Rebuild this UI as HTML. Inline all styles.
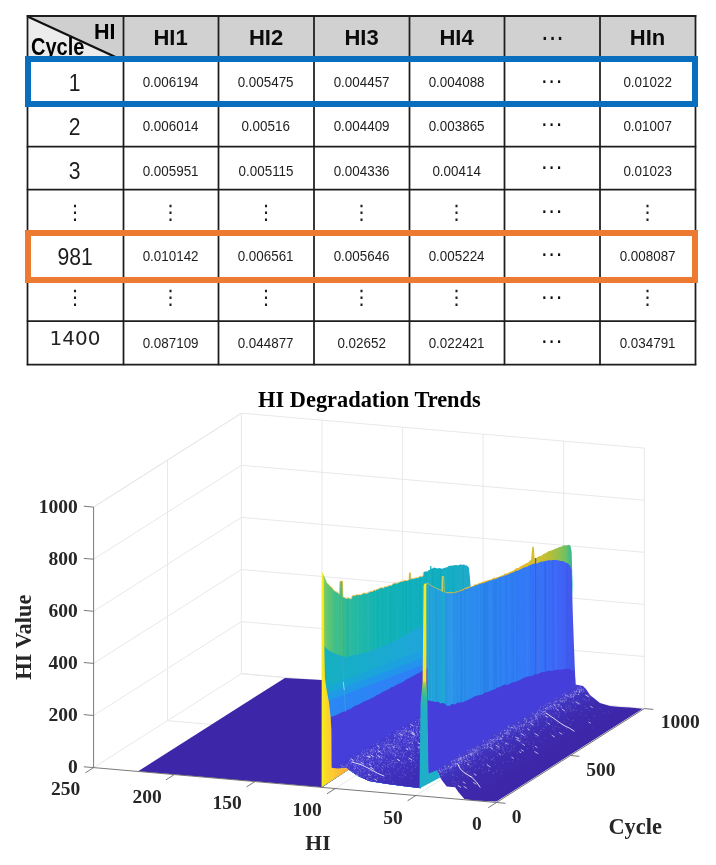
<!DOCTYPE html>
<html lang="en"><head><meta charset="utf-8"><title>HI Degradation Trends</title>
<style>
html,body{margin:0;padding:0;background:#fff;}
body{width:716px;height:865px;position:relative;overflow:hidden;font-family:"Liberation Sans",Arial,sans-serif;}
table.hi{position:absolute;left:27px;top:16px;border-collapse:collapse;table-layout:fixed;width:668px;}
table.hi th,table.hi td{border:0;padding:0;text-align:center;vertical-align:middle;color:#1a1a1a;overflow:hidden;line-height:1;}
table.hi th{background:#d1d1d1;font-size:22px;font-weight:bold;color:#0c0c0c;}
table.hi td{font-size:14.2px;background:#fff;color:#1e1e1e;}
table.hi td span{transform:scaleX(0.945);}
table.hi span{position:relative;display:inline-block;}
table.hi th span{top:1px;}
table.hi td.first{font-size:24px;color:#1c1c1c;}
table.hi td.first span{transform:scaleX(0.88);}
table.hi td.wide{font-family:"DejaVu Sans","Liberation Sans",sans-serif;font-size:20px;color:#222;}
table.hi td.wide span{transform:none;top:-6px;}
table.hi td.vd,table.hi td.first.vd{font-size:20px;font-family:"DejaVu Sans",sans-serif;}
table.hi td.vd span{transform:none;}
table.hi .dots{font-size:24px;font-weight:normal;font-family:"DejaVu Sans","Liberation Sans",sans-serif;color:#111;}
table.hi td.dots{font-size:21px;letter-spacing:0.6px;}
th.corner{position:relative;}
th.corner .diag{position:absolute;left:0;top:0;}
table.hi th.corner span{position:absolute;font-weight:bold;color:#000;line-height:1;top:auto;}
table.hi th.corner .hc-hi{right:7.5px;top:6px;font-size:21.5px;}
table.hi th.corner .hc-cy{left:4px;top:19.5px;font-size:23px;transform:scaleX(0.87);transform-origin:0 0;}
table.hi tr.r1 td span{top:2px;}
table.hi tr.r2 td span{top:1.5px;}
table.hi tr.r2 td.first span{top:2.5px;}
table.hi tr.r3 td span{top:3px;}
table.hi tr.r5 td span{top:0.5px;}
table.hi tr.r6 td span{top:-3px;}
table.hi tr.r7 td span{top:1px;}
table.hi tr.r7 td.wide span{top:-5px;}
table.hi tr td.dots span{top:1px;transform:none;}
table.hi tr.r1 td.dots span{top:2px;}
table.hi tr.r3 td.dots span{top:0.5px;}
table.hi tr.r5 td.dots span{top:-1px;}
table.hi tr.r6 td.dots span{top:-1.3px;}
table.hi tr.r7 td.dots span{top:0.4px;}
table.hi tr.r0 th.dots span{top:1.5px;left:0.5px;}
svg.grid{position:absolute;left:0;top:0;}
.box{position:absolute;box-sizing:border-box;border-style:solid;border-width:6px;}
.blue{left:25px;top:56px;width:673px;height:51px;border-color:#0A6EBF;}
.orange{left:25px;top:230px;width:673px;height:53px;border-color:#EC7A31;}
</style></head>
<body>
<table class="hi">
<colgroup><col style="width:96px"><col style="width:95px"><col style="width:96px"><col style="width:95px"><col style="width:95px"><col style="width:96px"><col style="width:95px"></colgroup>
<tr class="r0" style="height:42px"><th class="corner"><svg class="diag" width="97" height="43" viewBox="0 0 97 43"><polygon points="0,0 97,0 97,43 89,43" fill="#cfcfcf"/><polygon points="0,0 89,43 0,43" fill="#ececec"/><line x1="0.5" y1="0.5" x2="88.5" y2="41" stroke="#111" stroke-width="2.2"/></svg><span class="hc-hi">HI</span><span class="hc-cy">Cycle</span></th><th><span>HI1</span></th><th><span>HI2</span></th><th><span>HI3</span></th><th><span>HI4</span></th><th class="dots"><span>···</span></th><th><span>HIn</span></th></tr>
<tr class="r1" style="height:45px"><td class="first"><span>1</span></td><td><span>0.006194</span></td><td><span>0.005475</span></td><td><span>0.004457</span></td><td><span>0.004088</span></td><td class="dots"><span>···</span></td><td><span>0.01022</span></td></tr>
<tr class="r2" style="height:43px"><td class="first"><span>2</span></td><td><span>0.006014</span></td><td><span>0.00516</span></td><td><span>0.004409</span></td><td><span>0.003865</span></td><td class="dots"><span>···</span></td><td><span>0.01007</span></td></tr>
<tr class="r3" style="height:44px"><td class="first"><span>3</span></td><td><span>0.005951</span></td><td><span>0.005115</span></td><td><span>0.004336</span></td><td><span>0.00414</span></td><td class="dots"><span>···</span></td><td><span>0.01023</span></td></tr>
<tr class="r4" style="height:43px"><td class="first vd"><span>⋮</span></td><td class="vd"><span>⋮</span></td><td class="vd"><span>⋮</span></td><td class="vd"><span>⋮</span></td><td class="vd"><span>⋮</span></td><td class="dots"><span>···</span></td><td class="vd"><span>⋮</span></td></tr>
<tr class="r5" style="height:46px"><td class="first"><span>981</span></td><td><span>0.010142</span></td><td><span>0.006561</span></td><td><span>0.005646</span></td><td><span>0.005224</span></td><td class="dots"><span>···</span></td><td><span>0.008087</span></td></tr>
<tr class="r6" style="height:42px"><td class="first vd"><span>⋮</span></td><td class="vd"><span>⋮</span></td><td class="vd"><span>⋮</span></td><td class="vd"><span>⋮</span></td><td class="vd"><span>⋮</span></td><td class="dots"><span>···</span></td><td class="vd"><span>⋮</span></td></tr>
<tr class="r7" style="height:43px"><td class="first wide"><span>1400</span></td><td><span>0.087109</span></td><td><span>0.044877</span></td><td><span>0.02652</span></td><td><span>0.022421</span></td><td class="dots"><span>···</span></td><td><span>0.034791</span></td></tr>
</table>
<svg class="grid" width="716" height="380" viewBox="0 0 716 380">
<g stroke="#1d1d1d" stroke-width="1.75" fill="none">
<line x1="27.5" y1="15.1" x2="27.5" y2="365.25"/>
<line x1="123.5" y1="15.1" x2="123.5" y2="365.25"/>
<line x1="218.5" y1="15.1" x2="218.5" y2="365.25"/>
<line x1="314" y1="15.1" x2="314" y2="365.25"/>
<line x1="409.5" y1="15.1" x2="409.5" y2="365.25"/>
<line x1="504.5" y1="15.1" x2="504.5" y2="365.25"/>
<line x1="600" y1="15.1" x2="600" y2="365.25"/>
<line x1="695.5" y1="15.1" x2="695.5" y2="365.25"/>
<line x1="26.75" y1="16" x2="696.25" y2="16" stroke-width="2.2"/>
<line x1="26.75" y1="58" x2="696.25" y2="58" stroke-width="1.75"/>
<line x1="26.75" y1="103" x2="696.25" y2="103" stroke-width="1.75"/>
<line x1="26.75" y1="146.5" x2="696.25" y2="146.5" stroke-width="1.75"/>
<line x1="26.75" y1="189.5" x2="696.25" y2="189.5" stroke-width="1.75"/>
<line x1="26.75" y1="233" x2="696.25" y2="233" stroke-width="1.75"/>
<line x1="26.75" y1="279" x2="696.25" y2="279" stroke-width="1.75"/>
<line x1="26.75" y1="321" x2="696.25" y2="321" stroke-width="1.75"/>
<line x1="26.75" y1="364.5" x2="696.25" y2="364.5" stroke-width="1.75"/>
</g></svg>
<div class="box blue"></div>
<div class="box orange"></div>
<svg width="716" height="865" viewBox="0 0 716 865" style="position:absolute;left:0;top:0">
<defs><linearGradient id="gC1" gradientUnits="userSpaceOnUse" x1="322" y1="0" x2="471" y2="0"><stop offset="0.000" stop-color="#A5D24A"/><stop offset="0.020" stop-color="#76C965"/><stop offset="0.054" stop-color="#57C478"/><stop offset="0.087" stop-color="#41BF88"/><stop offset="0.154" stop-color="#2FBB9A"/><stop offset="0.255" stop-color="#20B8A8"/><stop offset="0.389" stop-color="#12B4B6"/><stop offset="0.658" stop-color="#0EB0BE"/><stop offset="0.859" stop-color="#14AEC4"/><stop offset="1.000" stop-color="#22AACB"/></linearGradient><linearGradient id="gA" gradientUnits="userSpaceOnUse" x1="324" y1="0" x2="428" y2="0"><stop offset="0.000" stop-color="#15B0C0"/><stop offset="0.350" stop-color="#18ACCB"/><stop offset="1.000" stop-color="#1FA5DB"/></linearGradient><linearGradient id="gB" gradientUnits="userSpaceOnUse" x1="324" y1="0" x2="428" y2="0"><stop offset="0.000" stop-color="#17A9D2"/><stop offset="1.000" stop-color="#1E9FE3"/></linearGradient><linearGradient id="gC" gradientUnits="userSpaceOnUse" x1="324" y1="0" x2="428" y2="0"><stop offset="0.000" stop-color="#1E9CE6"/><stop offset="1.000" stop-color="#2491EE"/></linearGradient><linearGradient id="gD" gradientUnits="userSpaceOnUse" x1="324" y1="0" x2="428" y2="0"><stop offset="0.000" stop-color="#2A88F4"/><stop offset="1.000" stop-color="#2F7FF7"/></linearGradient><linearGradient id="gS1" gradientUnits="userSpaceOnUse" x1="370" y1="745" x2="394" y2="788"><stop offset="0.000" stop-color="#443BD4"/><stop offset="0.500" stop-color="#4135C6"/><stop offset="1.000" stop-color="#3D2DB6"/></linearGradient><linearGradient id="gY1" gradientUnits="userSpaceOnUse" x1="321.5" y1="0" x2="349" y2="0"><stop offset="0.000" stop-color="#F8F11C"/><stop offset="0.091" stop-color="#F7E321"/><stop offset="0.236" stop-color="#FBD22B"/><stop offset="0.455" stop-color="#FDC731"/><stop offset="1.000" stop-color="#F5A93D"/></linearGradient><linearGradient id="gSl" gradientUnits="userSpaceOnUse" x1="447" y1="0" x2="573" y2="0"><stop offset="0.000" stop-color="#EDB72F"/><stop offset="0.579" stop-color="#E3BB2C"/><stop offset="0.706" stop-color="#D6BE2B"/><stop offset="0.802" stop-color="#BBBF33"/><stop offset="0.881" stop-color="#98C04A"/><stop offset="0.944" stop-color="#6DC067"/><stop offset="0.976" stop-color="#45BB86"/><stop offset="1.000" stop-color="#1FB2A2"/></linearGradient><linearGradient id="gC2" gradientUnits="userSpaceOnUse" x1="426" y1="0" x2="576" y2="0"><stop offset="0.000" stop-color="#1FA7D7"/><stop offset="0.120" stop-color="#229EE0"/><stop offset="0.133" stop-color="#2896E8"/><stop offset="0.293" stop-color="#2B8CEE"/><stop offset="0.493" stop-color="#2E83F4"/><stop offset="0.693" stop-color="#3378F8"/><stop offset="0.827" stop-color="#3A6CFA"/><stop offset="0.927" stop-color="#4060F3"/><stop offset="1.000" stop-color="#4550E6"/></linearGradient><linearGradient id="gS2" gradientUnits="userSpaceOnUse" x1="470" y1="742" x2="496" y2="786"><stop offset="0.000" stop-color="#4B46D7"/><stop offset="0.160" stop-color="#463DCE"/><stop offset="0.300" stop-color="#4033BE"/><stop offset="0.600" stop-color="#3D2AAF"/><stop offset="1.000" stop-color="#3E26A8"/></linearGradient><linearGradient id="gY2" gradientUnits="userSpaceOnUse" x1="0" y1="560" x2="0" y2="790"><stop offset="0.000" stop-color="#F6EE1F"/><stop offset="0.525" stop-color="#F8E51F"/><stop offset="0.535" stop-color="#B8D23C"/><stop offset="0.560" stop-color="#5FC173"/><stop offset="0.600" stop-color="#2DB7A6"/><stop offset="0.660" stop-color="#22AEC6"/><stop offset="1.000" stop-color="#1DB0C8"/></linearGradient></defs>
<g fill="none" stroke-linecap="butt">
<line x1="93.6" y1="767.6" x2="241.4" y2="673.7" stroke="#e5e5e5" stroke-width="0.9" />
<line x1="241.4" y1="673.7" x2="644.3" y2="708.6" stroke="#e5e5e5" stroke-width="0.9" />
<line x1="93.6" y1="715.5" x2="241.4" y2="621.6" stroke="#e5e5e5" stroke-width="0.9" />
<line x1="241.4" y1="621.6" x2="644.3" y2="656.5" stroke="#e5e5e5" stroke-width="0.9" />
<line x1="93.6" y1="663.4" x2="241.4" y2="569.5" stroke="#e5e5e5" stroke-width="0.9" />
<line x1="241.4" y1="569.5" x2="644.3" y2="604.4" stroke="#e5e5e5" stroke-width="0.9" />
<line x1="93.6" y1="611.3" x2="241.4" y2="517.4" stroke="#e5e5e5" stroke-width="0.9" />
<line x1="241.4" y1="517.4" x2="644.3" y2="552.3" stroke="#e5e5e5" stroke-width="0.9" />
<line x1="93.6" y1="559.2" x2="241.4" y2="465.3" stroke="#e5e5e5" stroke-width="0.9" />
<line x1="241.4" y1="465.3" x2="644.3" y2="500.2" stroke="#e5e5e5" stroke-width="0.9" />
<line x1="93.6" y1="507.1" x2="241.4" y2="413.2" stroke="#e5e5e5" stroke-width="0.9" />
<line x1="241.4" y1="413.2" x2="644.3" y2="448.1" stroke="#e5e5e5" stroke-width="0.9" />
<line x1="167.5" y1="720.7" x2="167.5" y2="460.2" stroke="#e5e5e5" stroke-width="0.9" />
<line x1="167.5" y1="720.7" x2="570.4" y2="755.5" stroke="#e5e5e5" stroke-width="0.9" />
<line x1="241.4" y1="673.7" x2="241.4" y2="413.2" stroke="#e5e5e5" stroke-width="0.9" />
<line x1="241.4" y1="673.7" x2="644.3" y2="708.6" stroke="#e5e5e5" stroke-width="0.9" />
<line x1="322.0" y1="680.7" x2="322.0" y2="420.2" stroke="#e5e5e5" stroke-width="0.9" />
<line x1="174.2" y1="774.6" x2="322.0" y2="680.7" stroke="#e5e5e5" stroke-width="0.9" />
<line x1="402.6" y1="687.7" x2="402.6" y2="427.2" stroke="#e5e5e5" stroke-width="0.9" />
<line x1="254.8" y1="781.6" x2="402.6" y2="687.7" stroke="#e5e5e5" stroke-width="0.9" />
<line x1="483.1" y1="694.6" x2="483.1" y2="434.1" stroke="#e5e5e5" stroke-width="0.9" />
<line x1="335.3" y1="788.5" x2="483.1" y2="694.6" stroke="#e5e5e5" stroke-width="0.9" />
<line x1="563.7" y1="701.6" x2="563.7" y2="441.1" stroke="#e5e5e5" stroke-width="0.9" />
<line x1="415.9" y1="795.5" x2="563.7" y2="701.6" stroke="#e5e5e5" stroke-width="0.9" />
<line x1="644.3" y1="708.6" x2="644.3" y2="448.1" stroke="#e5e5e5" stroke-width="0.9" />
<line x1="496.5" y1="802.5" x2="644.3" y2="708.6" stroke="#e5e5e5" stroke-width="0.9" />
<line x1="93.6" y1="507.1" x2="241.4" y2="413.2" stroke="#e5e5e5" stroke-width="0.9" />
</g>
<polygon points="138.2,771.2 284.9,677.9 322.0,680.1 322.0,787.2" fill="#3E26A8" />
<clipPath id="cpC1"><polygon points="322.0,573.0 323.5,575.0 325.0,578.0 327.0,583.0 328.5,584.5 330.0,586.5 331.5,587.5 333.0,589.5 334.5,591.0 336.0,592.0 337.8,592.7 339.6,594.5 340.0,581.5 342.5,581.5 342.9,597.0 344.4,597.8 346.0,598.5 347.4,598.4 348.8,598.1 350.1,598.9 351.5,599.0 352.0,596.5 353.3,595.6 354.7,595.9 356.0,595.1 357.3,594.9 358.7,595.1 360.0,595.0 361.4,595.0 362.9,593.6 364.3,593.3 365.7,593.5 367.1,593.5 368.6,592.5 370.0,592.0 371.3,591.4 372.7,591.8 374.0,590.1 375.3,590.8 376.7,589.6 378.0,589.5 379.3,588.6 380.7,588.1 382.0,588.0 383.3,588.3 384.7,587.0 386.0,587.1 387.3,586.8 388.7,586.0 390.0,585.8 391.4,585.4 392.9,584.2 394.3,583.6 395.7,583.3 397.1,583.5 398.6,582.6 400.0,582.2 401.3,581.6 402.6,581.6 403.9,581.1 405.3,580.5 406.6,580.9 407.9,580.4 409.2,579.8 409.4,573.2 410.5,573.2 410.7,579.5 412.0,578.8 413.4,578.9 414.7,578.4 416.0,578.0 417.4,578.1 418.9,577.4 420.3,576.4 421.8,576.9 423.2,575.8 423.5,572.4 424.8,571.4 426.1,571.4 427.4,571.4 428.7,570.1 430.0,570.1 430.2,566.0 431.3,566.0 431.6,569.0 434.0,567.6 435.9,568.0 437.7,568.4 439.6,568.0 441.5,568.8 442.9,568.5 444.3,568.1 445.8,567.4 447.2,567.3 448.6,566.0 450.0,565.7 451.4,565.8 452.9,565.5 454.3,565.3 455.7,564.9 457.1,565.2 458.6,565.2 460.0,564.4 461.3,564.5 462.6,565.0 464.0,564.3 465.3,565.4 466.6,565.3 468.8,567.6 469.7,575.0 470.6,586.0 471.0,700.0 421.0,730.0 420.5,788.2 419.4,788.0 402.6,785.9 385.9,783.8 369.1,781.0 358.0,776.1 351.0,771.2 348.6,769.5 322.0,787.2"/></clipPath>
<g clip-path="url(#cpC1)">
<rect x="320" y="560" width="152" height="232" fill="url(#gC1)"/>
<polygon points="340.0,581.5 342.5,581.5 342.9,656.5 340.0,655.5" fill="#45C083" />
<line x1="419.2" y1="560" x2="419.6" y2="720" stroke="#075a70" stroke-opacity="0.04" stroke-width="1.0"/><line x1="422.3" y1="560" x2="422.8" y2="720" stroke="#fff" stroke-opacity="0.04" stroke-width="1.2"/><line x1="397.1" y1="560" x2="397.3" y2="720" stroke="#fff" stroke-opacity="0.04" stroke-width="0.9"/><line x1="382.3" y1="560" x2="383.0" y2="720" stroke="#000" stroke-opacity="0.02" stroke-width="1.2"/><line x1="453.2" y1="560" x2="453.6" y2="720" stroke="#000" stroke-opacity="0.04" stroke-width="1.1"/><line x1="377.7" y1="560" x2="377.9" y2="720" stroke="#000" stroke-opacity="0.04" stroke-width="0.9"/><line x1="359.4" y1="560" x2="360.6" y2="720" stroke="#fff" stroke-opacity="0.02" stroke-width="0.9"/><line x1="366.6" y1="560" x2="367.2" y2="720" stroke="#fff" stroke-opacity="0.03" stroke-width="1.2"/><line x1="463.2" y1="560" x2="464.7" y2="720" stroke="#075a70" stroke-opacity="0.04" stroke-width="1.3"/><line x1="432.5" y1="560" x2="433.7" y2="720" stroke="#000" stroke-opacity="0.04" stroke-width="1.5"/><line x1="440.9" y1="560" x2="441.5" y2="720" stroke="#000" stroke-opacity="0.03" stroke-width="1.1"/><line x1="383.7" y1="560" x2="384.0" y2="720" stroke="#fff" stroke-opacity="0.02" stroke-width="0.8"/><line x1="375.0" y1="560" x2="375.8" y2="720" stroke="#fff" stroke-opacity="0.02" stroke-width="1.2"/><line x1="462.6" y1="560" x2="464.0" y2="720" stroke="#075a70" stroke-opacity="0.02" stroke-width="1.3"/><line x1="347.4" y1="560" x2="348.3" y2="720" stroke="#000" stroke-opacity="0.04" stroke-width="1.1"/><line x1="342.6" y1="560" x2="343.3" y2="720" stroke="#000" stroke-opacity="0.04" stroke-width="1.1"/><line x1="338.4" y1="560" x2="339.5" y2="720" stroke="#fff" stroke-opacity="0.04" stroke-width="1.1"/><line x1="425.7" y1="560" x2="427.1" y2="720" stroke="#075a70" stroke-opacity="0.02" stroke-width="1.2"/><line x1="347.1" y1="560" x2="348.2" y2="720" stroke="#075a70" stroke-opacity="0.04" stroke-width="1.0"/><line x1="418.6" y1="560" x2="419.0" y2="720" stroke="#fff" stroke-opacity="0.04" stroke-width="1.0"/><line x1="350.1" y1="560" x2="351.2" y2="720" stroke="#fff" stroke-opacity="0.03" stroke-width="1.0"/><line x1="358.1" y1="560" x2="359.3" y2="720" stroke="#fff" stroke-opacity="0.04" stroke-width="1.4"/><line x1="358.7" y1="560" x2="359.7" y2="720" stroke="#075a70" stroke-opacity="0.03" stroke-width="1.6"/><line x1="439.8" y1="560" x2="440.8" y2="720" stroke="#000" stroke-opacity="0.02" stroke-width="1.6"/><line x1="390.4" y1="560" x2="391.8" y2="720" stroke="#075a70" stroke-opacity="0.04" stroke-width="1.0"/><line x1="357.7" y1="560" x2="358.3" y2="720" stroke="#fff" stroke-opacity="0.03" stroke-width="1.1"/><line x1="467.9" y1="560" x2="468.6" y2="720" stroke="#075a70" stroke-opacity="0.04" stroke-width="1.3"/><line x1="441.1" y1="560" x2="441.3" y2="720" stroke="#fff" stroke-opacity="0.04" stroke-width="1.0"/><line x1="428.5" y1="560" x2="428.7" y2="720" stroke="#fff" stroke-opacity="0.03" stroke-width="1.4"/><line x1="373.9" y1="560" x2="374.5" y2="720" stroke="#075a70" stroke-opacity="0.03" stroke-width="1.6"/><line x1="430.4" y1="560" x2="430.4" y2="720" stroke="#fff" stroke-opacity="0.04" stroke-width="1.2"/><line x1="393.0" y1="560" x2="394.3" y2="720" stroke="#075a70" stroke-opacity="0.02" stroke-width="1.6"/><line x1="420.6" y1="560" x2="421.5" y2="720" stroke="#000" stroke-opacity="0.02" stroke-width="0.7"/><line x1="441.1" y1="560" x2="441.9" y2="720" stroke="#075a70" stroke-opacity="0.03" stroke-width="1.5"/><line x1="388.5" y1="560" x2="388.8" y2="720" stroke="#fff" stroke-opacity="0.04" stroke-width="0.9"/><line x1="368.2" y1="560" x2="368.7" y2="720" stroke="#fff" stroke-opacity="0.04" stroke-width="1.2"/><line x1="446.1" y1="560" x2="446.7" y2="720" stroke="#fff" stroke-opacity="0.04" stroke-width="1.1"/><line x1="410.0" y1="560" x2="411.4" y2="720" stroke="#075a70" stroke-opacity="0.03" stroke-width="1.2"/><line x1="402.6" y1="560" x2="403.9" y2="720" stroke="#075a70" stroke-opacity="0.03" stroke-width="1.4"/><line x1="413.6" y1="560" x2="414.3" y2="720" stroke="#fff" stroke-opacity="0.02" stroke-width="1.4"/><line x1="406.1" y1="560" x2="406.9" y2="720" stroke="#000" stroke-opacity="0.04" stroke-width="1.1"/><line x1="437.8" y1="560" x2="438.1" y2="720" stroke="#075a70" stroke-opacity="0.02" stroke-width="0.7"/><line x1="340.1" y1="560" x2="341.2" y2="720" stroke="#000" stroke-opacity="0.03" stroke-width="1.5"/><line x1="389.8" y1="560" x2="390.7" y2="720" stroke="#075a70" stroke-opacity="0.04" stroke-width="0.9"/><line x1="365.9" y1="560" x2="366.6" y2="720" stroke="#075a70" stroke-opacity="0.03" stroke-width="1.5"/>
<polygon points="324.3,646.1 327.0,649.0 330.0,651.2 335.0,653.6 340.0,655.6 344.0,656.5 347.0,656.9 352.0,655.6 360.0,654.0 370.0,651.2 380.0,647.6 390.0,643.0 400.0,638.0 410.0,632.6 420.0,627.0 428.0,622.5 428.0,792.0 322.0,792.0" fill="url(#gA)" />
<polygon points="326.0,686.7 340.0,681.4 360.0,673.7 380.0,666.1 400.0,658.4 428.0,647.7 428.0,792.0 322.0,792.0" fill="url(#gB)" />
<polygon points="326.0,693.9 340.0,688.6 360.0,681.2 380.0,673.7 400.0,666.3 428.0,655.9 428.0,792.0 322.0,792.0" fill="url(#gC)" />
<polygon points="326.0,701.6 340.0,696.3 360.0,688.7 380.0,681.1 400.0,673.5 428.0,662.9 428.0,792.0 322.0,792.0" fill="url(#gD)" />
<polygon points="330.6,717.1 333.0,716.3 335.3,715.5 337.6,714.5 340.0,713.2 342.6,711.9 345.3,711.0 347.9,709.8 349.9,709.2 351.9,708.1 353.9,706.5 356.0,705.5 358.0,704.8 360.0,703.8 362.1,702.4 364.1,701.6 366.2,700.4 368.2,699.9 370.3,698.7 372.4,697.8 374.5,696.8 376.6,695.0 378.6,694.4 380.7,693.2 382.8,691.7 384.9,691.1 387.0,689.7 389.2,689.0 391.3,687.3 393.5,686.8 395.7,685.3 397.8,684.3 400.0,683.2 402.0,682.5 404.0,681.3 406.0,679.6 408.0,678.7 410.0,677.7 412.0,676.6 414.0,675.4 416.0,674.2 418.0,673.2 420.0,672.5 422.0,670.8 424.0,670.2 426.0,669.0 428.0,668.0 428.0,792.0 322.0,792.0" fill="#453EDB" />
<line x1="342" y1="657" x2="345.5" y2="712" stroke="#3fa9e0" stroke-width="1" opacity="0.5"/>
<line x1="343.2" y1="682" x2="344.3" y2="690" stroke="#bfe6f0" stroke-width="1" opacity="0.7"/>
<polygon points="334.2,767.2 360.0,751.7 380.0,739.7 400.0,727.7 419.4,716.0 428.0,711.0 428.0,792.0 334.0,792.0" fill="url(#gS1)" />
</g>
<polyline points="327.0,582.7 328.5,584.2 330.0,586.2 331.5,587.2 333.0,589.2 334.5,590.7 336.0,591.7 337.8,592.4 339.6,594.2 340.0,581.2 342.5,581.2 342.9,596.7 344.4,597.5 346.0,598.2 347.4,598.1 348.8,597.8 350.1,598.6 351.5,598.7 352.0,596.2 353.3,595.3 354.7,595.6 356.0,594.8 357.3,594.6 358.7,594.8 360.0,594.7 361.4,594.7 362.9,593.3 364.3,593.0 365.7,593.2 367.1,593.2 368.6,592.2 370.0,591.7 371.3,591.1 372.7,591.5 374.0,589.8 375.3,590.5 376.7,589.3 378.0,589.2 379.3,588.3 380.7,587.8 382.0,587.7 383.3,588.0 384.7,586.7 386.0,586.8 387.3,586.5 388.7,585.7 390.0,585.5 391.4,585.1 392.9,583.9 394.3,583.3 395.7,583.0 397.1,583.2 398.6,582.3 400.0,581.9 401.3,581.3 402.6,581.3 403.9,580.8 405.3,580.2 406.6,580.6 407.9,580.1 409.2,579.5 409.4,572.9 410.5,572.9 410.7,579.2 412.0,578.5 413.4,578.6 414.7,578.1 416.0,577.7 417.4,577.8 418.9,577.1 420.3,576.1 421.8,576.6 423.2,575.5 423.5,572.1" fill="none" stroke="#E8B838" stroke-width="1" opacity="0.8"/>
<polygon points="321.8,572.5 322.6,572.5 323.9,580.0 324.2,646.0 325.0,679.0 326.7,690.3 329.0,702.6 330.6,717.0 331.4,730.0 331.6,767.4 332.8,767.9 338.4,768.5 344.0,767.8 347.5,768.5 348.8,769.7 321.6,787.2" fill="url(#gY1)" />
<g stroke="#fff" stroke-linecap="round" fill="none" clip-path="url(#cpC1)">
<path stroke-width="0.9" opacity="0.3" d="M408.5 734.3h.01M360.9 772.5h.01M411.3 739.1h.01M399.3 741.3h.01M394.4 739.7h.01M377.7 749.5h.01M386.9 751.9h.01M384.5 746.1h.01M346.1 765.0h.01M364.7 756.7h.01M405.9 731.6h.01M367.9 772.1h.01M353.4 761.9h.01M422.0 749.0h.01M381.5 768.9h.01M367.5 753.6h.01M401.0 743.8h.01M342.5 764.2h.01M416.1 728.0h.01M363.0 768.4h.01M425.5 721.4h.01M358.5 773.2h.01M379.7 757.6h.01M344.3 766.5h.01M364.0 754.5h.01M389.9 773.7h.01M401.9 738.5h.01M371.8 774.8h.01M403.5 770.3h.01M410.0 730.5h.01M389.7 764.0h.01M357.2 774.4h.01M387.4 747.0h.01M393.6 742.3h.01M409.4 749.6h.01M382.3 770.2h.01M403.8 734.0h.01M342.8 766.7h.01M404.1 766.5h.01M381.4 761.5h.01M406.6 744.3h.01M395.1 743.1h.01M404.4 732.7h.01M388.2 744.1h.01M397.8 733.7h.01M398.2 738.3h.01M378.9 766.7h.01M418.2 741.4h.01M411.4 746.0h.01M355.3 765.0h.01M355.4 768.2h.01M423.7 720.2h.01M411.5 770.8h.01M357.3 761.2h.01M380.7 744.0h.01M377.5 743.3h.01M413.2 760.6h.01M418.9 752.4h.01M361.3 765.6h.01M362.3 759.0h.01M358.9 756.1h.01M370.3 777.4h.01M417.4 734.5h.01M422.5 746.1h.01M402.2 763.0h.01M405.2 739.3h.01M379.4 757.3h.01M363.4 755.4h.01M387.3 746.8h.01M355.1 768.3h.01M381.7 753.6h.01M353.7 773.0h.01M358.0 765.3h.01M388.4 764.9h.01M374.1 770.2h.01M370.7 751.1h.01M425.0 720.1h.01M382.3 769.7h.01M416.3 736.2h.01M390.0 778.9h.01M425.4 732.1h.01M422.6 740.5h.01M395.6 735.9h.01M394.5 734.8h.01M384.2 750.8h.01M371.7 749.7h.01M424.2 744.0h.01M424.4 718.4h.01M381.8 760.7h.01M374.6 749.9h.01M367.1 777.9h.01M409.3 742.4h.01M382.4 756.2h.01M411.4 778.1h.01M356.4 760.8h.01M381.6 758.2h.01M355.6 766.7h.01M341.5 767.1h.01M418.6 749.0h.01M421.7 740.5h.01M397.1 745.9h.01M370.4 752.0h.01M361.7 764.4h.01M411.6 729.9h.01M370.3 753.9h.01M406.5 729.8h.01M420.6 718.3h.01M404.8 742.5h.01M424.1 728.8h.01M360.1 757.3h.01M420.3 750.7h.01M424.0 735.6h.01M375.6 751.5h.01M421.4 735.4h.01M411.7 761.4h.01M391.9 743.8h.01M408.0 740.4h.01M354.2 755.9h.01M360.4 757.6h.01M357.5 756.0h.01M393.1 753.7h.01M397.1 762.6h.01M413.4 729.6h.01M403.9 753.9h.01M358.8 758.1h.01M389.2 748.8h.01M372.4 771.8h.01M410.4 726.6h.01M413.3 740.1h.01M339.7 768.0h.01M425.5 726.5h.01M421.6 748.0h.01M423.0 740.9h.01M356.0 774.6h.01M349.0 766.7h.01M396.0 747.5h.01M409.2 730.3h.01M372.4 749.9h.01M394.8 746.0h.01M373.7 752.3h.01M364.3 770.7h.01M368.9 754.4h.01M415.5 740.4h.01M403.0 727.5h.01M373.4 762.3h.01M378.4 745.9h.01M394.9 739.4h.01M383.9 749.7h.01M410.0 732.2h.01M380.4 777.4h.01M421.2 754.9h.01M411.9 752.3h.01M408.3 731.7h.01M412.3 743.4h.01M402.7 734.5h.01M405.7 728.3h.01M413.1 745.1h.01M393.7 753.3h.01M374.6 767.0h.01M377.1 755.5h.01M406.2 745.9h.01M378.2 752.1h.01M394.6 740.8h.01M403.5 730.4h.01M382.4 766.5h.01M423.5 748.0h.01M403.4 763.3h.01M420.3 719.4h.01M408.5 732.0h.01M405.6 728.7h.01M418.5 723.7h.01M355.2 758.6h.01M416.3 727.2h.01M389.4 747.7h.01M393.9 740.6h.01M409.4 731.7h.01M376.7 758.1h.01M411.4 754.8h.01M394.8 763.8h.01M364.8 751.8h.01M383.2 767.7h.01M348.1 763.5h.01M390.2 747.0h.01M393.4 748.9h.01M358.4 755.4h.01M373.0 779.5h.01M395.4 755.4h.01M422.2 721.4h.01M373.4 748.9h.01M422.6 726.9h.01M382.6 753.4h.01M410.8 731.6h.01M408.0 728.4h.01M404.6 730.1h.01M404.2 740.8h.01M357.4 758.1h.01M366.9 752.7h.01M401.5 762.3h.01M386.9 774.3h.01M360.4 770.5h.01M424.8 722.2h.01M404.4 761.2h.01M417.0 731.8h.01M397.2 752.2h.01M379.2 763.5h.01M376.2 775.1h.01M388.5 743.7h.01M367.7 749.7h.01M400.1 740.7h.01M411.4 737.4h.01M394.3 745.2h.01M394.1 734.1h.01M405.7 735.3h.01M365.4 754.0h.01M362.0 756.9h.01M369.9 773.2h.01M414.3 774.0h.01M367.9 763.4h.01M385.5 746.1h.01M411.4 764.7h.01M381.2 746.0h.01M367.9 765.4h.01M360.0 769.9h.01M400.4 736.6h.01M400.1 739.1h.01M393.8 747.5h.01M417.9 735.0h.01M417.7 733.3h.01M418.9 721.6h.01M370.9 759.9h.01M384.9 751.9h.01M405.3 738.8h.01M396.9 732.8h.01M407.2 740.2h.01M353.6 768.2h.01M400.7 735.3h.01M358.8 765.0h.01M384.0 748.8h.01M425.7 733.2h.01M426.5 718.9h.01M403.5 742.7h.01M345.8 767.2h.01M371.7 771.1h.01M399.8 735.5h.01M394.2 746.6h.01M373.2 751.0h.01M419.5 746.4h.01M374.7 756.4h.01M402.4 758.1h.01M414.4 749.0h.01M395.0 752.7h.01M345.0 768.7h.01M408.0 731.5h.01M375.0 775.6h.01M393.2 765.1h.01M407.6 748.5h.01M350.8 770.7h.01M385.8 745.4h.01M412.3 749.2h.01M373.8 761.8h.01M372.1 753.8h.01M361.2 755.4h.01M368.4 759.5h.01M356.6 759.7h.01M372.1 751.8h.01M410.5 736.4h.01M379.2 760.5h.01M368.5 756.4h.01M411.3 732.6h.01M386.4 759.2h.01M412.7 747.9h.01M370.6 780.8h.01M375.2 747.5h.01M361.9 753.5h.01M363.8 776.3h.01M396.7 734.8h.01M421.4 724.3h.01M419.3 726.7h.01M396.3 730.7h.01M357.5 768.0h.01M367.9 779.1h.01M392.0 744.2h.01M408.5 759.6h.01M354.2 769.2h.01M376.3 772.5h.01M387.1 737.7h.01M381.4 755.2h.01M379.0 759.0h.01M385.6 761.6h.01M397.2 755.2h.01M394.6 762.0h.01M366.4 774.9h.01M402.1 734.7h.01M367.2 763.8h.01M384.3 757.7h.01M412.1 731.3h.01M412.2 743.4h.01M382.6 758.8h.01M396.2 737.0h.01M363.5 772.1h.01M394.4 736.7h.01M417.5 726.6h.01M340.6 765.3h.01M420.8 721.2h.01M396.5 745.1h.01M392.7 782.6h.01M400.1 756.2h.01M397.4 750.9h.01M406.2 735.4h.01M407.3 737.1h.01M396.3 762.4h.01M387.7 766.6h.01M363.8 769.0h.01M395.0 745.3h.01M410.6 727.3h.01M420.5 721.2h.01M390.5 740.2h.01M395.3 735.2h.01M350.0 764.0h.01M347.2 765.4h.01M402.2 736.2h.01M403.5 732.9h.01M401.6 738.3h.01M403.1 756.7h.01M378.4 761.9h.01M411.2 742.0h.01M351.3 771.2h.01M380.7 762.3h.01M376.4 753.6h.01M349.3 768.1h.01M393.9 753.8h.01M371.5 761.5h.01M366.5 757.0h.01M425.9 728.5h.01M375.4 773.8h.01M370.7 762.6h.01M410.3 750.6h.01M411.1 749.3h.01M388.6 771.0h.01M414.3 736.3h.01M367.9 778.8h.01M386.9 744.3h.01M421.7 730.1h.01M391.8 744.6h.01M408.8 736.3h.01M407.0 727.2h.01M389.3 773.7h.01M379.8 770.9h.01M353.4 764.8h.01M369.4 762.4h.01M373.0 756.6h.01M390.9 763.8h.01M383.8 749.0h.01M415.7 721.9h.01M388.2 740.1h.01M423.1 756.5h.01M411.3 737.5h.01M354.5 759.9h.01M378.2 755.3h.01M419.7 745.5h.01M397.6 743.9h.01M377.2 778.0h.01M413.0 758.2h.01M408.3 736.5h.01M405.5 756.9h.01M390.4 750.3h.01M345.7 768.6h.01M380.3 755.7h.01M357.9 773.6h.01M402.0 753.6h.01M415.7 730.3h.01M413.5 726.6h.01M377.6 765.9h.01M393.8 766.8h.01M360.5 763.9h.01M413.2 728.4h.01M346.5 766.8h.01M379.9 761.5h.01M359.7 764.1h.01M402.8 773.1h.01M348.9 762.4h.01M412.6 736.6h.01M419.9 719.3h.01M388.6 748.1h.01M401.5 738.5h.01M361.2 767.9h.01M392.3 746.3h.01M403.4 755.4h.01M410.6 742.5h.01M413.5 736.6h.01M419.7 737.9h.01M416.2 724.3h.01M369.8 760.8h.01M370.1 750.5h.01M377.0 745.8h.01M371.1 750.3h.01M423.8 724.2h.01M383.2 764.7h.01M425.0 719.2h.01M400.3 732.5h.01M389.0 741.3h.01M400.6 767.0h.01M381.4 757.4h.01M373.3 744.6h.01M390.4 744.8h.01M404.7 735.3h.01M412.0 743.1h.01M413.3 731.2h.01M358.1 768.6h.01M411.0 730.8h.01M358.9 760.9h.01M394.2 749.4h.01M375.8 765.6h.01M422.2 762.8h.01M410.5 755.8h.01M395.0 762.6h.01M398.4 738.2h.01M393.2 760.5h.01M364.1 775.0h.01M385.1 744.1h.01M363.0 761.4h.01M362.5 753.8h.01M413.3 732.8h.01M388.5 747.5h.01M378.4 755.9h.01M392.4 752.3h.01M356.4 760.6h.01M371.3 750.0h.01M415.3 721.6h.01M387.2 759.3h.01M363.2 755.4h.01M376.5 744.1h.01M424.3 728.0h.01M392.7 754.7h.01M411.5 761.0h.01M405.9 731.0h.01M408.2 736.1h.01M416.1 765.2h.01M406.4 751.7h.01M388.6 750.3h.01M408.1 746.0h.01M377.6 765.4h.01M402.5 735.3h.01M371.4 767.9h.01M408.4 740.4h.01M420.7 730.4h.01M413.6 749.9h.01M420.7 728.2h.01M385.5 766.0h.01M399.0 730.8h.01M368.9 769.0h.01M398.2 743.3h.01M388.8 755.5h.01M424.7 740.2h.01M384.8 744.1h.01M426.0 729.3h.01M383.2 777.8h.01M411.5 756.5h.01M417.7 730.0h.01M383.1 747.0h.01M353.3 772.1h.01M394.6 757.5h.01M364.2 759.3h.01M397.5 770.2h.01M381.8 758.8h.01M384.9 748.4h.01M388.9 744.8h.01M405.9 730.7h.01M392.4 760.5h.01M401.8 731.6h.01M351.6 763.2h.01M389.6 746.0h.01M377.4 752.1h.01M389.6 744.5h.01M376.4 754.2h.01M421.6 731.2h.01M391.4 762.6h.01M381.6 756.7h.01M402.1 732.8h.01M364.4 771.7h.01M358.4 771.6h.01M369.0 770.8h.01M385.1 753.8h.01M368.3 748.9h.01M357.8 767.5h.01M397.1 740.6h.01M412.8 741.5h.01M410.1 739.7h.01M368.5 756.0h.01M382.4 742.4h.01M401.0 752.5h.01M418.8 735.8h.01M392.0 744.8h.01M416.3 740.1h.01M360.9 774.2h.01M371.4 762.3h.01M371.9 768.9h.01M352.3 771.8h.01M369.3 765.0h.01M364.6 750.3h.01M347.6 765.3h.01M419.6 738.0h.01M417.2 726.5h.01M397.1 746.9h.01M400.3 747.2h.01M413.9 738.9h.01M403.5 727.2h.01M350.9 764.5h.01M363.9 755.8h.01M394.7 736.1h.01M413.2 752.8h.01M376.0 761.1h.01M362.3 750.8h.01M414.6 725.7h.01M346.2 769.0h.01M399.9 748.8h.01M404.8 733.8h.01M423.1 732.1h.01M421.6 732.6h.01M393.8 767.7h.01M421.4 737.6h.01M406.1 761.8h.01M360.0 764.2h.01M425.2 731.9h.01M373.9 749.9h.01M401.0 749.1h.01M357.9 757.0h.01M422.1 742.9h.01M363.5 762.1h.01M366.7 760.6h.01M386.4 740.7h.01M391.1 749.1h.01M406.5 730.8h.01M369.2 756.9h.01M377.2 756.3h.01M365.9 769.7h.01M342.6 766.3h.01M427.3 715.6h.01M426.2 724.5h.01M386.0 737.8h.01M420.6 739.9h.01M396.0 755.9h.01M358.6 760.5h.01M413.2 725.5h.01M412.4 722.3h.01M411.9 741.9h.01M369.9 770.8h.01M358.0 759.8h.01M388.2 767.2h.01M419.3 751.1h.01M381.5 753.5h.01M389.5 734.5h.01M399.3 746.2h.01M376.4 754.6h.01M413.4 757.6h.01M408.4 742.6h.01M383.3 748.3h.01M419.2 729.4h.01M363.2 778.4h.01M354.0 765.7h.01M415.6 738.5h.01M424.5 742.6h.01M398.2 759.8h.01M395.6 755.6h.01M367.6 752.2h.01M398.4 734.7h.01M374.3 764.2h.01M388.0 744.6h.01M417.9 726.8h.01M384.8 751.1h.01M381.0 757.4h.01M346.4 768.2h.01M390.1 753.7h.01M376.4 757.9h.01M386.7 744.5h.01M424.3 735.6h.01M407.3 748.5h.01M401.1 738.1h.01M417.8 752.7h.01M420.4 751.4h.01M351.5 762.0h.01M398.6 753.5h.01M402.4 752.2h.01M391.5 760.0h.01M398.1 731.9h.01M413.1 737.7h.01M353.0 760.6h.01M362.7 759.2h.01M416.5 740.8h.01M399.4 747.3h.01M382.2 766.2h.01M398.5 749.0h.01M413.8 737.4h.01M416.3 726.5h.01M355.9 765.1h.01M390.2 748.6h.01M379.0 747.4h.01M371.7 749.6h.01M366.7 749.7h.01M378.3 748.3h.01M397.7 731.2h.01M361.1 771.6h.01M384.6 742.7h.01M416.3 728.5h.01M394.2 746.7h.01M409.2 743.0h.01M422.4 726.6h.01M404.0 745.3h.01M394.4 749.9h.01M365.7 775.6h.01M358.4 755.9h.01M368.1 753.8h.01M377.7 745.7h.01M388.3 739.4h.01M363.7 764.0h.01M402.9 777.1h.01M420.8 735.1h.01M368.8 777.2h.01M375.4 750.9h.01M418.7 724.1h.01M359.7 766.5h.01M400.8 730.4h.01M372.8 758.4h.01M395.6 759.9h.01M403.5 755.0h.01M410.5 733.5h.01M367.4 759.8h.01M416.5 732.3h.01M420.9 724.2h.01M395.7 751.7h.01M398.5 735.0h.01M366.8 778.8h.01M378.6 741.6h.01M421.1 775.2h.01M392.5 762.1h.01M366.3 759.4h.01M406.6 731.3h.01M410.9 748.9h.01M387.1 752.1h.01M391.3 752.0h.01M401.5 763.0h.01M407.4 742.8h.01M377.7 778.0h.01M384.1 748.1h.01M379.8 748.0h.01M407.2 767.8h.01M405.6 775.3h.01M387.1 742.3h.01M422.5 723.5h.01M403.9 740.2h.01M426.4 721.7h.01M394.5 755.8h.01M345.9 764.9h.01M373.0 757.1h.01M422.9 726.5h.01M356.6 756.5h.01M357.3 771.7h.01M405.8 741.7h.01M355.9 772.0h.01M405.1 763.1h.01M362.0 768.3h.01M391.0 766.1h.01M355.3 768.2h.01M369.2 755.5h.01M415.5 767.4h.01M363.4 766.1h.01M349.9 759.7h.01M398.8 738.8h.01M426.1 729.3h.01M357.6 762.2h.01M382.4 772.1h.01M375.6 751.8h.01M365.1 756.6h.01M352.5 761.3h.01M349.6 760.5h.01M368.5 775.4h.01M420.5 730.1h.01M417.3 734.1h.01M361.1 759.1h.01M373.5 763.2h.01M399.3 739.3h.01M386.0 774.0h.01M416.4 732.3h.01M372.7 759.4h.01M371.6 767.9h.01M359.4 769.9h.01M354.3 769.6h.01M413.6 730.0h.01M399.9 776.7h.01M395.5 754.5h.01M414.5 754.3h.01M357.6 758.8h.01M404.4 752.5h.01M384.4 764.6h.01M398.3 745.5h.01M360.4 776.7h.01M384.0 753.6h.01M384.2 779.5h.01M410.8 727.0h.01M378.3 758.0h.01M412.1 755.4h.01M371.1 777.4h.01M411.2 731.5h.01M409.9 746.2h.01M372.4 753.5h.01M399.9 756.3h.01M405.8 732.9h.01M398.6 747.8h.01M370.1 767.5h.01M371.1 763.1h.01M341.3 765.6h.01M402.1 730.9h.01M412.7 739.8h.01M394.5 742.8h.01M408.9 737.5h.01M370.2 770.7h.01M401.6 735.0h.01M373.5 769.6h.01M371.5 780.5h.01M421.1 740.3h.01M384.4 755.9h.01M418.9 720.1h.01M378.6 748.3h.01M413.2 746.5h.01M376.5 757.4h.01M383.1 757.1h.01M373.0 773.4h.01M398.5 768.7h.01M343.1 766.6h.01M405.3 737.1h.01M416.2 758.0h.01M366.8 756.0h.01M361.3 752.8h.01M364.8 753.5h.01M414.8 761.9h.01M378.7 752.2h.01M389.7 761.3h.01M420.6 748.2h.01M388.0 761.8h.01M361.2 760.5h.01M409.8 742.8h.01M377.8 768.1h.01M394.8 773.0h.01M390.9 747.5h.01M420.9 754.7h.01M398.0 747.7h.01M363.1 760.9h.01M420.4 757.4h.01M374.2 768.8h.01M389.5 751.6h.01M387.6 764.6h.01M413.4 760.4h.01M409.5 743.9h.01M371.0 751.7h.01M356.5 765.9h.01M403.0 731.2h.01M398.5 760.4h.01M420.9 748.2h.01M422.4 734.3h.01M405.0 730.6h.01M421.5 741.0h.01M391.0 750.3h.01M413.8 734.2h.01M421.1 749.9h.01M367.7 758.8h.01M396.4 751.3h.01M358.8 763.0h.01M352.5 761.0h.01M387.4 753.8h.01M386.7 745.4h.01M368.5 758.2h.01M397.0 742.0h.01M366.5 764.3h.01M416.4 730.8h.01M416.9 719.8h.01M381.6 752.2h.01M351.1 762.7h.01M382.6 750.3h.01M354.7 766.5h.01M380.9 750.5h.01M350.1 760.5h.01M383.7 744.7h.01M417.9 743.2h.01M390.8 752.5h.01M401.4 745.7h.01M426.4 718.3h.01M392.9 748.4h.01M410.6 761.8h.01M420.7 769.8h.01M373.5 747.7h.01M358.5 756.9h.01M354.2 764.8h.01M405.1 729.0h.01M404.6 774.4h.01M412.2 768.8h.01M412.6 743.3h.01M390.3 775.9h.01M416.1 736.0h.01M425.1 727.8h.01M359.2 761.8h.01"/>
<path stroke-width="1" opacity="0.7" d="M378.1 755.8l1.7 1.0M419.5 731.9l2.2 1.3M409.0 758.1l2.5 1.5M412.0 732.2l2.3 1.4M367.2 756.1l2.3 1.4M409.0 747.9l1.0 0.6M410.7 724.4l1.9 1.1M378.1 750.7l2.3 1.4M393.0 746.7l1.0 0.6M360.9 762.3l2.3 1.4M411.7 733.4l1.5 0.9M356.6 775.1l1.9 1.1M418.2 742.8l1.7 1.0M350.9 758.8l2.5 1.5M377.8 745.9l1.3 0.8M368.4 774.3l1.7 1.0M370.7 767.4l2.4 1.4M397.3 759.3l2.5 1.5M369.3 764.2l1.9 1.2M369.5 756.5l0.9 0.5M412.8 734.0l2.2 1.3M418.0 746.9l2.1 1.3M406.1 748.6l1.8 1.1M374.7 779.2l2.0 1.2M371.0 755.2l2.1 1.2M399.6 733.6l2.3 1.4"/>
<path stroke-width="1" opacity="0.8" d="M352 762 q10 2 18 7 t14 7"/>
</g>
<polygon points="447.0,592.5 448.3,592.8 449.7,592.2 451.0,591.8 452.3,592.2 453.7,592.5 455.0,592.0 456.5,591.3 458.0,591.6 459.5,591.0 460.0,589.8 461.0,590.4 462.5,589.3 464.0,588.8 465.5,587.8 467.0,587.4 468.5,586.8 470.0,586.3 471.4,586.4 472.9,585.9 474.3,584.5 475.7,584.2 477.1,584.5 478.6,583.1 480.0,583.0 481.4,582.3 482.9,581.9 484.3,581.0 485.7,580.7 487.1,580.4 488.6,579.9 490.0,579.5 491.4,579.6 492.9,578.2 494.3,577.6 495.7,578.0 497.1,576.9 498.6,576.9 500.0,576.0 501.4,575.6 502.9,575.2 504.3,574.1 505.7,573.3 507.1,573.5 508.6,572.5 510.0,572.0 511.4,571.3 512.9,570.7 514.3,570.0 515.7,568.6 517.1,568.0 518.6,567.9 520.0,566.6 521.4,565.9 522.8,564.9 524.2,564.6 525.6,563.4 527.0,563.0 528.3,562.4 529.7,560.6 531.0,560.3 532.3,547.0 533.8,546.5 534.6,558.5 536.0,558.3 537.3,557.3 538.6,556.4 540.0,556.0 541.7,555.7 543.3,554.1 545.0,553.5 546.7,552.4 548.3,551.3 550.0,551.0 551.7,550.3 553.3,549.8 555.0,548.8 556.7,548.3 558.3,547.4 560.0,546.8 561.5,546.8 563.0,545.5 564.5,545.4 566.0,545.2 567.5,545.2 569.0,544.8 570.5,546.0 571.6,552.0 572.6,585.0 572.0,600.0 447.0,600.0" fill="url(#gSl)" />
<polygon points="426.3,585.0 426.6,583.6 427.5,583.0 429.0,584.0 430.5,585.4 432.0,586.0 433.5,586.9 435.0,587.5 436.5,588.4 438.0,589.0 439.8,590.0 441.6,590.6 442.2,576.5 443.6,576.5 444.3,591.6 446.0,592.6 448.0,592.9 449.2,592.8 450.6,592.8 452.0,592.9 453.5,593.2 455.0,592.7 456.7,592.5 458.3,591.7 460.0,591.4 461.4,590.7 462.9,590.5 464.3,589.6 465.7,588.8 467.1,588.9 468.6,588.0 470.0,587.4 471.4,586.9 472.9,586.6 474.3,586.3 475.7,585.2 477.1,584.9 478.6,584.2 480.0,584.1 481.4,583.5 482.9,583.1 484.3,582.9 485.7,582.3 487.1,581.7 488.6,581.0 490.0,580.6 491.4,580.2 492.9,579.4 494.3,579.5 495.7,578.9 497.1,578.5 498.6,577.4 500.0,577.2 501.4,576.8 502.9,576.3 504.3,575.6 505.7,575.4 507.1,574.8 508.6,574.2 510.0,573.4 511.4,573.1 512.9,572.4 514.3,572.0 515.7,570.8 517.1,570.7 518.6,570.2 520.0,569.4 521.4,568.9 522.9,568.0 524.3,567.3 525.7,567.2 527.1,566.8 528.6,565.7 530.0,565.3 531.4,564.6 532.9,564.1 534.3,563.5 535.7,563.6 537.1,563.4 538.6,562.7 540.0,562.0 541.3,561.6 542.7,561.7 544.0,560.9 545.3,561.3 546.7,560.6 548.0,560.5 549.4,560.0 550.8,560.4 552.2,559.9 553.6,559.9 555.0,560.0 556.4,559.8 557.8,560.4 559.2,560.6 560.6,561.1 562.0,561.0 563.7,561.3 565.3,562.6 567.0,563.0 568.5,563.9 570.0,565.5 571.5,570.0 573.0,620.0 574.5,660.0 575.6,686.0 575.5,688.5 570.0,692.5 560.0,699.0 550.0,705.0 540.0,711.0 530.0,717.0 510.0,728.5 490.0,740.5 470.0,752.5 450.0,764.5 437.0,774.0 428.4,777.5" fill="url(#gC2)" />
<clipPath id="cpC2"><polygon points="426.3,585.0 426.6,583.6 427.5,583.0 429.0,584.0 430.5,585.4 432.0,586.0 433.5,586.9 435.0,587.5 436.5,588.4 438.0,589.0 439.8,590.0 441.6,590.6 442.2,576.5 443.6,576.5 444.3,591.6 446.0,592.6 448.0,592.9 449.2,592.8 450.6,592.8 452.0,592.9 453.5,593.2 455.0,592.7 456.7,592.5 458.3,591.7 460.0,591.4 461.4,590.7 462.9,590.5 464.3,589.6 465.7,588.8 467.1,588.9 468.6,588.0 470.0,587.4 471.4,586.9 472.9,586.6 474.3,586.3 475.7,585.2 477.1,584.9 478.6,584.2 480.0,584.1 481.4,583.5 482.9,583.1 484.3,582.9 485.7,582.3 487.1,581.7 488.6,581.0 490.0,580.6 491.4,580.2 492.9,579.4 494.3,579.5 495.7,578.9 497.1,578.5 498.6,577.4 500.0,577.2 501.4,576.8 502.9,576.3 504.3,575.6 505.7,575.4 507.1,574.8 508.6,574.2 510.0,573.4 511.4,573.1 512.9,572.4 514.3,572.0 515.7,570.8 517.1,570.7 518.6,570.2 520.0,569.4 521.4,568.9 522.9,568.0 524.3,567.3 525.7,567.2 527.1,566.8 528.6,565.7 530.0,565.3 531.4,564.6 532.9,564.1 534.3,563.5 535.7,563.6 537.1,563.4 538.6,562.7 540.0,562.0 541.3,561.6 542.7,561.7 544.0,560.9 545.3,561.3 546.7,560.6 548.0,560.5 549.4,560.0 550.8,560.4 552.2,559.9 553.6,559.9 555.0,560.0 556.4,559.8 557.8,560.4 559.2,560.6 560.6,561.1 562.0,561.0 563.7,561.3 565.3,562.6 567.0,563.0 568.5,563.9 570.0,565.5 571.5,570.0 573.0,620.0 574.5,660.0 575.6,686.0 575.5,688.5 570.0,692.5 560.0,699.0 550.0,705.0 540.0,711.0 530.0,717.0 510.0,728.5 490.0,740.5 470.0,752.5 450.0,764.5 437.0,774.0 428.4,777.5"/></clipPath>
<g clip-path="url(#cpC2)"><line x1="460.5" y1="555" x2="461.7" y2="780" stroke="#0a1a90" stroke-opacity="0.05" stroke-width="1.2"/><line x1="461.4" y1="555" x2="461.6" y2="780" stroke="#0a1a90" stroke-opacity="0.04" stroke-width="1.5"/><line x1="545.3" y1="555" x2="545.5" y2="780" stroke="#0a1a90" stroke-opacity="0.04" stroke-width="0.9"/><line x1="545.6" y1="555" x2="545.6" y2="780" stroke="#000" stroke-opacity="0.03" stroke-width="1.3"/><line x1="533.1" y1="555" x2="533.5" y2="780" stroke="#0a1a90" stroke-opacity="0.02" stroke-width="1.6"/><line x1="487.3" y1="555" x2="488.5" y2="780" stroke="#0a1a90" stroke-opacity="0.05" stroke-width="1.4"/><line x1="567.4" y1="555" x2="567.7" y2="780" stroke="#000" stroke-opacity="0.04" stroke-width="1.3"/><line x1="511.5" y1="555" x2="512.3" y2="780" stroke="#000" stroke-opacity="0.03" stroke-width="1.3"/><line x1="493.9" y1="555" x2="494.1" y2="780" stroke="#000" stroke-opacity="0.04" stroke-width="0.8"/><line x1="538.1" y1="555" x2="538.8" y2="780" stroke="#fff" stroke-opacity="0.04" stroke-width="1.1"/><line x1="456.7" y1="555" x2="457.6" y2="780" stroke="#0a1a90" stroke-opacity="0.04" stroke-width="0.9"/><line x1="537.6" y1="555" x2="538.7" y2="780" stroke="#000" stroke-opacity="0.04" stroke-width="1.5"/><line x1="532.8" y1="555" x2="533.2" y2="780" stroke="#0a1a90" stroke-opacity="0.02" stroke-width="1.1"/><line x1="549.1" y1="555" x2="549.9" y2="780" stroke="#0a1a90" stroke-opacity="0.04" stroke-width="0.9"/><line x1="479.5" y1="555" x2="479.9" y2="780" stroke="#fff" stroke-opacity="0.03" stroke-width="1.0"/><line x1="443.3" y1="555" x2="443.7" y2="780" stroke="#0a1a90" stroke-opacity="0.02" stroke-width="1.5"/><line x1="544.7" y1="555" x2="545.1" y2="780" stroke="#000" stroke-opacity="0.04" stroke-width="1.5"/><line x1="480.8" y1="555" x2="480.9" y2="780" stroke="#000" stroke-opacity="0.03" stroke-width="1.0"/><line x1="474.2" y1="555" x2="474.8" y2="780" stroke="#fff" stroke-opacity="0.04" stroke-width="0.9"/><line x1="484.4" y1="555" x2="484.4" y2="780" stroke="#000" stroke-opacity="0.02" stroke-width="1.5"/><line x1="531.0" y1="555" x2="531.9" y2="780" stroke="#0a1a90" stroke-opacity="0.03" stroke-width="1.0"/><line x1="545.7" y1="555" x2="545.7" y2="780" stroke="#000" stroke-opacity="0.02" stroke-width="0.9"/><line x1="512.9" y1="555" x2="513.9" y2="780" stroke="#000" stroke-opacity="0.02" stroke-width="1.6"/><line x1="440.5" y1="555" x2="441.2" y2="780" stroke="#fff" stroke-opacity="0.02" stroke-width="1.5"/><line x1="552.5" y1="555" x2="553.5" y2="780" stroke="#000" stroke-opacity="0.04" stroke-width="1.1"/><line x1="520.7" y1="555" x2="521.0" y2="780" stroke="#fff" stroke-opacity="0.02" stroke-width="1.0"/><line x1="555.7" y1="555" x2="555.8" y2="780" stroke="#fff" stroke-opacity="0.04" stroke-width="0.9"/><line x1="494.2" y1="555" x2="495.0" y2="780" stroke="#0a1a90" stroke-opacity="0.05" stroke-width="1.5"/><line x1="538.4" y1="555" x2="538.5" y2="780" stroke="#0a1a90" stroke-opacity="0.04" stroke-width="1.1"/><line x1="486.0" y1="555" x2="487.2" y2="780" stroke="#0a1a90" stroke-opacity="0.05" stroke-width="1.3"/><line x1="496.1" y1="555" x2="496.2" y2="780" stroke="#000" stroke-opacity="0.04" stroke-width="1.1"/><line x1="483.3" y1="555" x2="484.5" y2="780" stroke="#0a1a90" stroke-opacity="0.02" stroke-width="0.9"/><line x1="484.9" y1="555" x2="485.6" y2="780" stroke="#0a1a90" stroke-opacity="0.04" stroke-width="1.4"/><line x1="433.6" y1="555" x2="433.8" y2="780" stroke="#fff" stroke-opacity="0.05" stroke-width="0.7"/><line x1="495.6" y1="555" x2="496.8" y2="780" stroke="#000" stroke-opacity="0.02" stroke-width="0.9"/><line x1="525.4" y1="555" x2="526.5" y2="780" stroke="#0a1a90" stroke-opacity="0.04" stroke-width="0.9"/><line x1="450.2" y1="555" x2="451.4" y2="780" stroke="#fff" stroke-opacity="0.03" stroke-width="1.4"/><line x1="555.9" y1="555" x2="556.9" y2="780" stroke="#fff" stroke-opacity="0.02" stroke-width="0.8"/><line x1="502.3" y1="555" x2="503.4" y2="780" stroke="#fff" stroke-opacity="0.03" stroke-width="1.0"/><line x1="555.4" y1="555" x2="556.1" y2="780" stroke="#fff" stroke-opacity="0.04" stroke-width="1.4"/><line x1="500.9" y1="555" x2="501.8" y2="780" stroke="#0a1a90" stroke-opacity="0.04" stroke-width="1.2"/><line x1="530.4" y1="555" x2="530.7" y2="780" stroke="#0a1a90" stroke-opacity="0.03" stroke-width="1.1"/><line x1="429.1" y1="555" x2="429.3" y2="780" stroke="#0a1a90" stroke-opacity="0.02" stroke-width="1.2"/><line x1="549.4" y1="555" x2="550.2" y2="780" stroke="#fff" stroke-opacity="0.02" stroke-width="0.9"/><line x1="490.2" y1="555" x2="490.3" y2="780" stroke="#fff" stroke-opacity="0.04" stroke-width="1.2"/><line x1="526.3" y1="555" x2="527.3" y2="780" stroke="#fff" stroke-opacity="0.04" stroke-width="1.5"/><line x1="442.7" y1="555" x2="443.1" y2="780" stroke="#000" stroke-opacity="0.02" stroke-width="1.0"/><line x1="499.6" y1="555" x2="500.6" y2="780" stroke="#0a1a90" stroke-opacity="0.05" stroke-width="0.7"/><line x1="438.9" y1="555" x2="439.8" y2="780" stroke="#fff" stroke-opacity="0.04" stroke-width="0.9"/><line x1="483.9" y1="555" x2="484.6" y2="780" stroke="#000" stroke-opacity="0.05" stroke-width="0.9"/><line x1="538.0" y1="555" x2="539.0" y2="780" stroke="#fff" stroke-opacity="0.05" stroke-width="1.3"/><line x1="432.4" y1="555" x2="433.5" y2="780" stroke="#0a1a90" stroke-opacity="0.02" stroke-width="1.4"/><line x1="435.9" y1="555" x2="436.5" y2="780" stroke="#0a1a90" stroke-opacity="0.05" stroke-width="1.3"/><line x1="464.6" y1="555" x2="464.7" y2="780" stroke="#000" stroke-opacity="0.04" stroke-width="1.0"/><line x1="451.5" y1="555" x2="452.3" y2="780" stroke="#fff" stroke-opacity="0.05" stroke-width="1.5"/><line x1="538.5" y1="555" x2="538.8" y2="780" stroke="#000" stroke-opacity="0.02" stroke-width="1.1"/><line x1="431.0" y1="555" x2="431.5" y2="780" stroke="#fff" stroke-opacity="0.03" stroke-width="1.4"/><line x1="428.3" y1="555" x2="429.2" y2="780" stroke="#fff" stroke-opacity="0.05" stroke-width="1.2"/><line x1="443.2" y1="555" x2="443.6" y2="780" stroke="#000" stroke-opacity="0.03" stroke-width="0.8"/><line x1="445.7" y1="555" x2="446.3" y2="780" stroke="#000" stroke-opacity="0.02" stroke-width="1.3"/><line x1="506.1" y1="555" x2="506.7" y2="780" stroke="#000" stroke-opacity="0.05" stroke-width="1.4"/><line x1="519.6" y1="555" x2="519.9" y2="780" stroke="#0a1a90" stroke-opacity="0.02" stroke-width="1.5"/><line x1="430.0" y1="555" x2="430.1" y2="780" stroke="#000" stroke-opacity="0.03" stroke-width="1.6"/><line x1="516.5" y1="555" x2="517.4" y2="780" stroke="#0a1a90" stroke-opacity="0.04" stroke-width="1.4"/><line x1="537.2" y1="555" x2="538.4" y2="780" stroke="#fff" stroke-opacity="0.03" stroke-width="0.8"/><line x1="553.6" y1="555" x2="554.8" y2="780" stroke="#0a1a90" stroke-opacity="0.02" stroke-width="1.3"/><line x1="513.7" y1="555" x2="513.8" y2="780" stroke="#0a1a90" stroke-opacity="0.02" stroke-width="1.1"/><line x1="439.3" y1="555" x2="439.3" y2="780" stroke="#0a1a90" stroke-opacity="0.02" stroke-width="1.0"/><line x1="448.6" y1="555" x2="449.4" y2="780" stroke="#fff" stroke-opacity="0.04" stroke-width="1.2"/><line x1="555.3" y1="555" x2="555.4" y2="780" stroke="#000" stroke-opacity="0.02" stroke-width="1.0"/></g>
<rect x="442.4" y="576.5" width="2.1" height="129" fill="#1FB0C6"/>
<polyline points="426.3,585.0 426.6,583.6 427.5,583.0 429.0,584.0 430.5,585.4 432.0,586.0 433.5,586.9 435.0,587.5 436.5,588.4 438.0,589.0 439.8,590.0 441.6,590.6 442.2,576.5 443.6,576.5 444.3,591.6 446.0,592.6 448.0,592.9 449.2,592.8 450.6,592.8" fill="none" stroke="#D9C43C" stroke-width="0.9" opacity="0.85"/>
<path d="M442.5 592V576.8H444" fill="none" stroke="#E3DB6A" stroke-width="0.8" opacity="0.9"/>
<line x1="535.6" y1="558" x2="535.6" y2="680" stroke="#4B55E6" stroke-width="1.3"/>
<line x1="535.8" y1="676" x2="536.4" y2="693" stroke="#a9b4f3" stroke-width="1.2"/>
<polygon points="426.3,700.0 428.6,700.3 431.0,701.2 433.3,701.3 435.6,702.2 438.0,701.6 440.3,703.4 442.7,702.9 445.0,703.6 447.0,706.0 449.6,705.8 452.2,703.8 454.8,704.4 457.4,702.8 460.0,702.5 462.5,702.2 465.0,701.2 467.5,700.1 470.0,699.0 472.5,697.6 475.0,696.2 477.5,695.5 480.0,695.0 482.5,694.6 485.0,692.5 487.5,692.3 490.0,691.0 492.5,690.1 495.0,689.3 497.5,687.5 500.0,687.0 502.5,685.6 505.0,684.6 507.5,685.1 510.0,683.5 512.5,682.4 515.0,682.0 517.5,681.0 520.0,680.0 522.5,678.6 525.0,677.4 527.5,676.4 530.0,676.2 532.5,675.9 535.0,673.9 537.5,674.4 540.0,672.8 542.5,672.1 545.0,672.2 547.5,670.7 550.0,670.8 552.5,671.0 555.0,669.9 557.5,669.8 560.0,669.7 562.5,669.6 565.0,668.7 567.5,668.8 570.0,669.0 572.4,670.5 574.7,671.0 575.6,686.0 575.5,688.5 570.0,692.5 560.0,699.0 550.0,705.0 540.0,711.0 530.0,717.0 510.0,728.5 490.0,740.5 470.0,752.5 450.0,764.5 437.0,774.0 428.4,777.5" fill="#453EDB" />
<polygon points="428.4,773.5 437.0,770.0 450.0,760.5 470.0,748.5 490.0,736.5 510.0,724.5 530.0,713.0 540.0,707.0 550.0,701.0 560.0,695.0 570.0,688.5 575.5,684.5 578.0,685.0 583.0,686.0 586.0,689.0 590.0,695.0 595.0,699.0 600.0,703.0 610.0,706.0 620.0,707.0 630.0,707.6 642.6,708.7 496.4,801.6 490.0,801.3 473.6,800.6 464.4,798.9 458.5,792.2 455.1,787.2 446.8,786.4 442.6,781.3 440.2,777.4 437.2,771.0" fill="url(#gS2)" />
<polygon points="423.6,586.0 423.9,584.6 424.8,583.6 426.3,583.4 426.4,682.0 427.4,700.0 428.4,773.5 437.0,770.2 440.2,777.4 419.5,788.6 420.6,703.0 422.6,682.0" fill="url(#gY2)" />
<g stroke="#fff" stroke-linecap="round" fill="none">
<path stroke-width="0.9" opacity="0.36" d="M479.9 750.7h.01M494.0 741.1h.01M466.5 755.2h.01M470.2 753.1h.01M532.3 719.9h.01M507.4 733.6h.01M535.6 715.7h.01M561.0 701.4h.01M502.4 736.5h.01M455.0 759.9h.01M451.8 766.8h.01M455.3 762.1h.01M471.9 754.1h.01M502.7 736.4h.01M491.1 743.2h.01M507.0 736.3h.01M448.5 766.4h.01M470.7 754.5h.01M565.9 695.1h.01M579.5 691.2h.01M576.7 691.1h.01M515.2 728.5h.01M565.1 700.5h.01M469.2 757.3h.01M573.8 694.8h.01M505.8 733.8h.01M504.6 733.6h.01M484.7 747.4h.01M491.1 746.3h.01M455.6 766.5h.01M464.5 758.0h.01M439.6 771.2h.01M441.6 769.2h.01M507.1 732.9h.01M472.4 750.4h.01M511.4 727.6h.01M459.3 759.0h.01M556.1 708.2h.01M564.0 698.1h.01M492.1 743.4h.01M471.4 753.3h.01M525.9 722.9h.01M469.9 754.5h.01M443.3 769.5h.01M466.2 757.8h.01M548.1 703.6h.01M497.1 736.0h.01M537.8 721.3h.01M472.3 754.2h.01M508.1 726.2h.01M510.3 730.8h.01M560.6 700.3h.01M467.7 759.3h.01M471.3 754.3h.01M579.3 689.4h.01M488.4 746.5h.01M536.3 718.4h.01M461.8 760.2h.01M559.7 705.7h.01M475.9 751.6h.01M504.8 730.7h.01M458.2 760.4h.01M473.3 757.9h.01M459.9 765.5h.01M458.2 758.6h.01M568.3 696.5h.01M446.4 769.1h.01M524.1 724.7h.01M504.5 730.1h.01M535.3 719.5h.01M564.5 701.3h.01M576.5 691.7h.01M497.9 744.0h.01M453.3 766.7h.01M440.6 771.9h.01M580.1 692.1h.01M566.0 695.6h.01M562.8 701.8h.01M556.6 702.1h.01M455.1 761.2h.01M473.8 750.9h.01M555.8 701.5h.01M570.1 697.6h.01M449.2 766.9h.01M569.9 694.6h.01M539.7 713.2h.01M475.6 751.9h.01M515.0 730.9h.01M537.6 719.0h.01M529.8 721.7h.01M507.3 730.8h.01M439.4 769.0h.01M507.9 730.9h.01M533.2 714.1h.01M464.5 762.7h.01M472.2 752.5h.01M501.3 738.3h.01M498.1 738.0h.01M579.4 692.0h.01M546.1 709.0h.01M490.9 740.4h.01M456.8 759.1h.01M470.7 755.1h.01M443.2 772.8h.01M458.0 759.9h.01M449.4 768.7h.01M523.6 726.6h.01M490.3 741.9h.01M541.6 711.3h.01M508.8 732.8h.01M440.6 771.7h.01M492.3 740.5h.01M579.5 691.0h.01M532.4 713.3h.01M531.3 717.0h.01M550.6 706.8h.01M558.8 704.6h.01M526.4 724.9h.01M524.6 718.5h.01M467.2 759.9h.01M544.7 711.3h.01M478.0 750.5h.01M463.5 759.0h.01M540.3 715.4h.01M477.0 751.0h.01M542.5 712.7h.01M454.8 764.0h.01M575.4 694.3h.01M487.3 744.5h.01M514.8 727.5h.01M508.4 734.8h.01M476.0 752.5h.01M461.9 760.2h.01M451.4 763.1h.01M476.7 748.3h.01M554.4 704.9h.01M510.3 728.9h.01M465.7 760.6h.01M445.5 768.0h.01M460.6 759.7h.01M543.4 709.3h.01M471.7 755.4h.01M451.8 761.3h.01M524.2 724.5h.01M556.2 708.0h.01M554.3 705.4h.01M535.5 717.5h.01M521.1 726.0h.01M523.6 724.7h.01M453.9 763.3h.01M476.0 750.0h.01M500.3 733.1h.01M442.5 770.4h.01M544.5 711.5h.01M532.0 720.5h.01M539.6 709.8h.01M468.1 752.5h.01M483.7 745.9h.01M461.1 758.5h.01M471.3 754.9h.01M543.3 707.0h.01M578.9 691.4h.01M484.4 744.4h.01M544.0 714.7h.01M451.1 767.4h.01M445.2 768.2h.01M575.0 693.0h.01M567.0 696.1h.01M455.6 763.9h.01M512.5 727.5h.01M543.3 711.5h.01M515.8 728.2h.01M448.3 766.6h.01M494.9 738.4h.01M536.3 716.1h.01M470.6 753.4h.01M542.7 714.8h.01M551.2 705.1h.01M574.4 695.5h.01M575.3 692.0h.01M505.0 733.6h.01M531.6 718.6h.01M582.2 689.5h.01M571.7 697.0h.01M529.0 722.3h.01M482.1 751.8h.01M551.3 708.9h.01M502.3 738.2h.01M451.8 767.1h.01M579.6 692.4h.01M550.9 708.0h.01M457.9 763.0h.01M462.1 760.3h.01M516.2 728.6h.01M463.5 757.5h.01M550.4 705.5h.01M456.1 764.3h.01M473.7 754.1h.01M476.2 751.2h.01M546.9 714.1h.01M507.5 729.4h.01M578.6 689.3h.01M506.4 732.3h.01M543.3 711.7h.01M466.5 755.8h.01M578.9 694.5h.01M487.8 747.5h.01M474.4 752.3h.01M583.6 690.9h.01M459.8 762.4h.01M463.4 757.1h.01M547.5 708.4h.01M499.5 739.0h.01M558.8 704.9h.01M439.5 770.4h.01M550.2 703.3h.01M577.9 687.9h.01M486.1 748.3h.01M477.1 746.9h.01M491.8 740.5h.01M493.6 742.8h.01M454.2 765.2h.01M498.4 743.9h.01M531.5 722.1h.01M473.9 749.9h.01M573.2 696.8h.01M549.0 709.2h.01M534.4 715.2h.01M494.0 741.6h.01M517.3 726.0h.01M487.5 745.8h.01M562.0 698.6h.01M562.6 701.4h.01M575.9 691.6h.01M547.4 707.7h.01M445.1 766.4h.01M565.9 695.7h.01M487.9 743.6h.01M553.1 707.1h.01M469.5 750.2h.01M488.0 744.4h.01M486.1 746.7h.01M441.8 772.2h.01M448.4 766.0h.01M447.9 767.9h.01M505.9 732.1h.01M497.1 741.1h.01M483.6 740.9h.01M530.9 721.4h.01M570.3 694.1h.01M545.9 708.3h.01M522.3 729.1h.01M453.6 760.6h.01M514.2 726.4h.01M509.2 727.3h.01M535.8 718.9h.01M468.6 754.3h.01M578.9 692.6h.01M540.3 717.6h.01M443.1 775.0h.01M524.9 718.9h.01M501.1 738.4h.01M451.6 761.1h.01M554.0 704.8h.01M490.4 743.7h.01M555.9 708.6h.01M470.2 760.9h.01M501.7 730.9h.01M493.9 739.4h.01M467.7 750.6h.01M482.4 745.7h.01M465.5 761.4h.01M518.4 722.6h.01M459.1 761.5h.01M578.6 694.3h.01M554.9 704.9h.01M465.0 760.8h.01M549.7 706.3h.01M565.7 694.8h.01M468.5 760.4h.01M570.4 695.7h.01M520.3 724.9h.01M459.1 758.3h.01M500.3 733.7h.01M526.5 721.6h.01M499.8 739.5h.01M513.4 728.3h.01M438.8 773.6h.01M488.0 743.5h.01M472.8 749.1h.01M475.6 750.1h.01M526.6 721.4h.01M570.9 696.5h.01M544.0 714.7h.01M548.1 708.0h.01M478.1 746.3h.01M561.2 702.0h.01M576.8 691.6h.01M503.1 736.4h.01M555.1 705.3h.01M537.6 716.9h.01M531.9 720.8h.01M474.0 756.5h.01M467.2 758.1h.01M528.9 722.6h.01M482.6 748.6h.01M450.5 768.1h.01M466.4 755.9h.01M465.0 760.8h.01M508.5 725.8h.01M509.5 734.3h.01M576.9 690.3h.01M525.0 722.9h.01M459.3 761.9h.01M541.1 714.0h.01M580.1 688.0h.01M500.5 738.4h.01M489.7 742.4h.01M460.4 758.3h.01M565.1 698.7h.01M562.9 700.1h.01M545.1 708.5h.01M573.3 697.0h.01M497.0 737.1h.01M519.5 726.7h.01M535.4 715.8h.01M459.4 755.0h.01M491.8 744.9h.01M524.7 719.0h.01M537.6 711.8h.01M518.8 731.5h.01M497.2 739.5h.01M569.9 697.2h.01M555.7 706.7h.01M508.5 732.7h.01M510.9 727.3h.01M489.4 747.7h.01M516.2 731.1h.01M508.1 731.0h.01M486.9 742.4h.01M553.5 708.1h.01M476.3 749.5h.01M491.3 744.3h.01M572.2 692.7h.01M486.9 744.6h.01M558.8 704.8h.01M441.2 775.4h.01M466.4 761.5h.01M459.6 762.9h.01M471.5 756.0h.01M545.8 711.0h.01M543.9 716.8h.01M519.0 722.8h.01M573.5 699.0h.01M501.8 739.4h.01M466.4 757.1h.01M494.7 735.3h.01M451.7 768.9h.01M525.8 719.0h.01M581.6 690.0h.01M456.3 763.3h.01M441.2 771.1h.01M454.5 760.6h.01M461.8 761.4h.01M536.9 718.8h.01M501.9 741.8h.01M495.5 740.0h.01M581.3 691.3h.01M464.4 756.8h.01M460.4 758.2h.01M446.7 772.2h.01M515.9 727.6h.01M502.6 735.2h.01M554.3 702.8h.01M567.6 696.2h.01M526.3 720.4h.01M576.7 694.3h.01M564.3 702.2h.01M458.9 759.9h.01M463.7 755.8h.01M555.9 705.0h.01M438.8 770.4h.01M555.3 701.4h.01M521.8 726.5h.01M545.1 705.2h.01M578.5 694.6h.01M574.6 691.6h.01M493.4 739.7h.01M477.5 754.4h.01M553.9 702.9h.01M558.7 706.6h.01M484.8 746.1h.01M549.4 707.9h.01M461.3 763.7h.01M564.1 697.4h.01M573.7 694.0h.01M450.2 770.7h.01M459.9 759.1h.01M549.9 702.8h.01M524.2 720.5h.01M500.8 737.9h.01M552.2 706.1h.01M453.1 764.8h.01M566.1 699.6h.01M502.9 735.3h.01M545.4 708.6h.01M533.4 720.1h.01M544.1 713.1h.01M469.5 754.1h.01M492.5 740.0h.01M573.2 702.7h.01M500.7 733.7h.01M522.0 725.9h.01M505.1 730.3h.01M564.9 693.8h.01M507.5 736.6h.01M455.4 763.6h.01M537.9 713.5h.01M445.9 772.5h.01M546.8 709.5h.01M457.3 760.9h.01M474.6 750.4h.01M557.8 706.1h.01M450.8 767.0h.01M563.2 700.6h.01M506.3 733.2h.01M506.9 732.4h.01M488.5 740.0h.01M575.1 693.6h.01M557.8 704.5h.01M455.7 764.7h.01M487.4 747.6h.01M462.1 762.4h.01M553.5 704.5h.01M474.8 753.8h.01M571.2 694.3h.01M528.1 725.1h.01M530.7 718.4h.01M516.3 729.4h.01M452.5 763.2h.01M572.3 696.0h.01M547.5 705.6h.01M472.1 749.1h.01M579.4 691.6h.01M573.7 695.9h.01M519.5 729.2h.01M497.6 739.5h.01M507.1 734.4h.01M510.5 730.9h.01M519.4 728.3h.01M550.0 706.5h.01M568.3 696.2h.01M492.0 749.1h.01M458.6 759.9h.01M523.6 725.9h.01M518.5 725.9h.01M484.1 748.4h.01M456.2 763.5h.01M479.8 747.0h.01M577.4 689.2h.01M538.8 710.3h.01M531.2 723.8h.01M517.9 729.3h.01M491.0 739.7h.01M526.9 719.3h.01M473.9 759.3h.01M581.0 689.9h.01M519.3 726.1h.01M468.2 754.8h.01M561.0 701.3h.01M536.4 713.5h.01M537.7 715.1h.01M445.2 769.5h.01M500.7 739.1h.01M521.6 724.2h.01M524.7 725.6h.01M559.2 704.2h.01M464.3 758.5h.01M560.3 706.6h.01M477.3 754.3h.01M567.4 695.3h.01M580.1 689.9h.01M497.5 738.5h.01M560.1 701.0h.01M582.2 692.1h.01M477.7 753.2h.01M459.7 758.6h.01M578.2 694.1h.01M584.1 691.3h.01M534.1 717.1h.01M461.7 759.4h.01M490.8 739.5h.01M570.3 695.8h.01M461.3 761.6h.01M460.0 757.0h.01M461.5 757.6h.01M511.9 727.3h.01M498.7 736.6h.01M517.9 727.7h.01M500.1 737.3h.01M472.8 753.5h.01M559.1 700.5h.01M473.5 755.4h.01M495.0 741.9h.01M487.3 745.0h.01M536.5 714.0h.01M560.7 698.6h.01M573.8 694.7h.01M526.8 721.9h.01M450.1 767.7h.01M486.8 748.3h.01M500.3 739.2h.01M483.4 741.1h.01M473.9 752.2h.01M460.7 759.7h.01M571.8 697.2h.01M541.8 711.2h.01M444.7 770.6h.01M456.0 765.5h.01M461.0 757.3h.01M529.9 722.6h.01M487.3 745.9h.01M453.1 764.8h.01M513.1 725.5h.01M462.7 758.0h.01M535.2 714.1h.01M451.4 766.2h.01M470.7 754.5h.01M496.6 739.7h.01M539.1 715.3h.01M536.6 717.5h.01M470.7 751.4h.01M501.3 738.9h.01M460.9 763.3h.01M583.6 689.4h.01M573.2 696.6h.01M509.8 733.4h.01M466.5 755.6h.01M556.9 701.1h.01M480.9 753.0h.01M507.6 730.9h.01M458.8 760.3h.01M538.8 714.6h.01M540.5 707.1h.01M444.6 766.6h.01M543.1 712.3h.01M485.3 744.8h.01M445.9 765.6h.01M489.2 741.7h.01M540.2 710.8h.01M478.7 752.9h.01M581.8 688.9h.01M451.4 766.1h.01M544.7 713.4h.01M460.8 757.7h.01M566.2 698.0h.01M493.9 739.6h.01M536.7 716.4h.01M490.0 743.3h.01M566.6 700.3h.01M571.6 695.0h.01M553.6 708.0h.01M580.5 687.2h.01M532.7 721.2h.01M466.9 755.8h.01M514.3 726.6h.01M492.9 741.8h.01M513.0 728.1h.01M478.8 748.9h.01M511.9 727.6h.01M535.6 716.2h.01M465.3 755.8h.01M551.2 706.7h.01M541.4 713.5h.01M474.6 749.2h.01M574.1 691.1h.01M480.7 748.6h.01M497.1 737.8h.01M508.9 727.4h.01M545.5 711.2h.01M490.6 745.6h.01M483.0 744.6h.01M545.8 713.7h.01M468.5 756.4h.01M534.2 721.7h.01M537.4 712.6h.01M478.1 747.2h.01M446.9 768.2h.01M579.4 691.0h.01M515.1 725.1h.01M556.2 698.2h.01M471.7 753.4h.01M555.0 706.0h.01M546.4 707.5h.01M477.7 750.7h.01M509.6 730.4h.01M562.8 694.9h.01M565.5 696.1h.01M484.2 747.7h.01M581.2 690.0h.01"/>
<path stroke-width="0.9" opacity="0.25" d="M503.4 747.3h.01M521.2 751.5h.01M533.5 742.7h.01M525.5 735.7h.01M453.8 775.1h.01M524.1 729.1h.01M520.6 731.1h.01M568.7 719.6h.01M485.8 771.0h.01M566.1 705.5h.01M505.8 746.9h.01M494.3 760.9h.01M511.2 744.7h.01M456.9 776.4h.01M564.4 721.8h.01M546.9 721.1h.01M509.2 743.2h.01M529.1 744.4h.01M472.0 781.2h.01M496.3 771.6h.01M561.6 708.3h.01M541.0 741.7h.01M493.3 750.4h.01M568.7 706.0h.01M554.2 736.3h.01M523.6 729.9h.01M499.4 748.4h.01M593.0 728.0h.01M467.3 777.3h.01M537.8 719.8h.01M467.8 761.7h.01M467.3 771.3h.01M546.5 725.3h.01M505.0 743.9h.01M482.2 768.7h.01M520.6 730.7h.01M518.0 759.0h.01M513.7 747.3h.01M504.0 751.4h.01M466.0 774.8h.01M471.7 762.2h.01M574.7 710.0h.01M512.4 737.0h.01M518.6 737.7h.01M575.9 701.9h.01M576.3 710.3h.01M494.2 750.0h.01M600.1 708.3h.01M521.2 736.3h.01M589.4 698.8h.01M579.6 702.2h.01M539.7 733.0h.01M487.5 758.6h.01M581.8 711.4h.01M499.2 747.0h.01M566.5 708.6h.01M482.6 764.2h.01M554.6 710.3h.01M475.5 775.6h.01M475.6 758.2h.01M508.6 744.4h.01M567.2 718.1h.01M534.1 726.0h.01M519.2 740.1h.01M535.2 746.6h.01M574.0 703.1h.01M470.2 762.2h.01M483.7 759.4h.01M453.0 784.6h.01M580.8 703.9h.01M551.2 717.7h.01M514.4 745.9h.01M462.6 766.0h.01M463.7 768.3h.01M480.3 758.4h.01M505.6 744.2h.01M503.4 762.7h.01M589.1 700.6h.01M493.3 772.6h.01M554.9 726.8h.01M566.3 707.7h.01M582.9 698.9h.01M538.2 722.8h.01M487.4 764.3h.01M497.1 748.3h.01M492.6 759.4h.01M491.3 759.8h.01M546.9 718.0h.01M545.2 738.2h.01M516.0 739.9h.01M589.1 697.1h.01M549.7 724.5h.01M479.3 767.8h.01M546.3 722.3h.01M517.1 752.9h.01M570.8 706.4h.01M541.7 730.4h.01M491.4 759.8h.01M533.1 747.4h.01M498.2 743.2h.01M568.9 707.3h.01M473.8 759.2h.01M533.0 745.5h.01M577.9 704.5h.01M469.1 762.7h.01M528.3 733.1h.01M492.0 747.0h.01M484.8 756.0h.01M559.7 712.4h.01M552.2 725.8h.01M533.5 748.7h.01M453.2 770.1h.01M558.3 717.0h.01M508.2 738.4h.01M558.8 717.1h.01M573.2 709.7h.01M462.4 775.6h.01M572.2 702.1h.01M554.6 717.1h.01M589.3 710.7h.01M459.6 765.7h.01M498.0 748.9h.01M466.4 772.3h.01M507.0 738.4h.01M537.7 736.7h.01M587.3 708.1h.01M471.7 758.8h.01M512.6 736.2h.01M470.5 767.2h.01M489.7 770.8h.01M528.2 730.5h.01M463.8 770.8h.01M533.0 723.5h.01M483.9 765.3h.01M527.2 736.9h.01M575.6 706.3h.01M556.3 726.4h.01M496.6 748.3h.01M555.9 712.6h.01M520.1 734.3h.01M569.1 701.4h.01M570.1 709.2h.01M474.9 769.8h.01M507.0 742.9h.01M488.9 770.4h.01M572.1 710.6h.01M454.2 786.0h.01M533.9 730.4h.01M514.0 750.4h.01M474.4 762.5h.01M508.1 761.5h.01M472.0 765.6h.01M588.9 719.3h.01M454.8 782.1h.01M587.6 696.1h.01M525.0 733.5h.01M545.3 721.3h.01M549.3 716.4h.01M507.0 751.2h.01M532.7 725.3h.01M493.3 757.9h.01M572.8 701.3h.01M503.0 754.7h.01M470.8 773.8h.01M488.6 770.7h.01M502.5 749.0h.01M479.0 768.8h.01M529.1 742.6h.01M507.5 748.1h.01M561.4 706.9h.01M470.7 766.2h.01M521.3 740.3h.01M453.0 780.9h.01M478.7 755.4h.01M467.2 766.9h.01M487.0 757.1h.01M529.2 724.7h.01M458.9 766.4h.01M527.6 748.4h.01M469.1 776.2h.01M462.2 770.6h.01M587.0 708.0h.01M502.8 749.2h.01M533.0 722.5h.01M503.5 749.9h.01M502.2 746.6h.01M572.1 720.9h.01M544.2 728.6h.01M493.5 758.2h.01M545.7 725.9h.01M586.7 700.8h.01M502.0 770.0h.01M566.3 728.4h.01M488.8 768.7h.01M556.0 733.3h.01M483.3 765.0h.01M499.2 749.1h.01M537.9 725.6h.01M585.6 708.3h.01M469.9 771.3h.01M540.4 730.6h.01M458.2 783.7h.01M486.3 763.4h.01M530.7 727.2h.01M521.2 737.0h.01M573.5 720.1h.01M526.4 741.5h.01M485.7 757.4h.01M538.5 724.7h.01M591.1 696.9h.01M585.8 715.7h.01M500.9 745.0h.01M509.4 751.8h.01M520.0 738.2h.01M577.2 700.2h.01M557.9 714.8h.01M490.3 750.9h.01M479.4 759.5h.01M586.2 695.4h.01M512.5 761.2h.01M525.0 737.5h.01M452.3 782.6h.01M452.4 775.3h.01M493.4 745.8h.01M468.9 763.3h.01M584.9 706.2h.01M496.8 751.9h.01M504.5 752.5h.01M585.1 699.5h.01M554.5 729.8h.01M500.5 755.9h.01M525.8 734.5h.01M558.9 727.6h.01M520.5 739.8h.01M584.2 699.7h.01M510.4 750.7h.01M497.2 755.5h.01M474.3 784.1h.01M475.8 768.7h.01M570.0 708.8h.01M483.0 760.4h.01M464.4 764.3h.01M536.0 736.5h.01M528.3 726.9h.01M561.4 706.5h.01M543.4 728.1h.01M525.1 737.2h.01M511.4 748.3h.01M565.3 712.7h.01M513.8 733.9h.01M452.3 773.9h.01M530.3 726.6h.01M609.0 712.0h.01M561.3 707.6h.01M522.9 729.4h.01M499.7 745.7h.01M553.0 714.1h.01M521.4 743.5h.01M469.4 760.6h.01M589.0 695.2h.01M472.0 776.3h.01M563.8 732.5h.01M594.1 716.1h.01M458.7 781.2h.01M502.5 754.6h.01M497.0 770.0h.01M559.6 715.1h.01M567.1 710.8h.01M557.7 723.3h.01M455.5 785.3h.01M588.1 694.3h.01M570.5 711.4h.01M551.3 721.0h.01M510.9 738.9h.01M455.9 782.9h.01M495.2 764.8h.01M522.4 731.8h.01M550.5 733.7h.01M565.1 711.9h.01M548.0 716.6h.01M523.3 742.4h.01M483.2 772.5h.01M556.1 713.7h.01M501.4 773.8h.01M481.0 754.5h.01M462.2 768.0h.01M475.4 763.5h.01M507.7 742.9h.01M473.1 775.3h.01M604.0 712.9h.01M493.5 773.8h.01M468.5 762.9h.01M570.4 724.3h.01M580.0 714.2h.01M497.8 747.7h.01M553.1 728.8h.01M496.0 751.0h.01M473.2 777.5h.01M468.7 772.2h.01M503.5 741.9h.01"/>
<path stroke-width="0.9" opacity="0.7" d="M470.2 776.2l1.4 0.8M463.9 786.5l2.8 1.7M467.4 764.0l1.6 1.0M576.1 702.0l3.1 1.9M527.7 728.8l1.8 1.1M496.0 745.3l2.9 1.7M585.7 695.0l2.7 1.6M474.2 773.9l1.9 1.2M505.7 743.1l1.5 0.9M511.8 757.3l1.7 1.0M535.4 746.4l1.6 1.0M499.1 753.7l1.2 0.7M545.4 716.0l2.0 1.2M522.7 744.2l1.9 1.1M473.5 782.5l2.5 1.5M590.7 706.5l1.7 1.0M547.8 723.1l1.7 1.0M534.7 751.6l3.2 1.9M521.1 733.6l3.0 1.8M490.6 747.6l2.0 1.2M487.3 765.0l2.9 1.8M588.9 722.2l1.5 0.9M521.3 749.8l2.0 1.2M559.5 732.7l2.5 1.5M519.5 751.8l1.3 0.8M463.1 782.0l2.1 1.2M516.7 739.5l3.3 2.0M562.3 709.3l2.3 1.4M530.9 723.6l2.2 1.3M534.8 733.5l3.4 2.0M557.0 709.5l1.4 0.8M515.7 737.0l2.9 1.7M552.1 735.4l2.3 1.4M458.1 785.6l2.7 1.6"/>
<path stroke-width="1" opacity="0.85" d="M457.6 763.7 q2 6 6 8.5 t8 5 q5 4 8.5 10"/>
<path stroke-width="1" opacity="0.8" d="M546 713 q6 4 10 7 t9 6 q5 2 9 5"/>
</g>
<g stroke="#6a6a6a" stroke-width="1" fill="none">
<line x1="93.6" y1="767.6" x2="93.6" y2="507.1" stroke="#6a6a6a" stroke-width="0.9" />
<line x1="93.6" y1="767.6" x2="496.5" y2="802.5" stroke="#6a6a6a" stroke-width="0.9" />
<line x1="496.5" y1="802.5" x2="644.3" y2="708.6" stroke="#6a6a6a" stroke-width="0.9" />
<line x1="93.6" y1="767.6" x2="83.8" y2="766.8" stroke="#6a6a6a" stroke-width="0.9" />
<line x1="93.6" y1="715.5" x2="83.8" y2="714.6" stroke="#6a6a6a" stroke-width="0.9" />
<line x1="93.6" y1="663.4" x2="83.8" y2="662.5" stroke="#6a6a6a" stroke-width="0.9" />
<line x1="93.6" y1="611.3" x2="83.8" y2="610.4" stroke="#6a6a6a" stroke-width="0.9" />
<line x1="93.6" y1="559.2" x2="83.8" y2="558.4" stroke="#6a6a6a" stroke-width="0.9" />
<line x1="93.6" y1="507.1" x2="83.8" y2="506.2" stroke="#6a6a6a" stroke-width="0.9" />
<line x1="93.6" y1="767.6" x2="85.3" y2="772.9" stroke="#6a6a6a" stroke-width="0.9" />
<line x1="174.2" y1="774.6" x2="165.9" y2="779.9" stroke="#6a6a6a" stroke-width="0.9" />
<line x1="254.8" y1="781.6" x2="246.5" y2="786.9" stroke="#6a6a6a" stroke-width="0.9" />
<line x1="335.3" y1="788.5" x2="327.0" y2="793.8" stroke="#6a6a6a" stroke-width="0.9" />
<line x1="415.9" y1="795.5" x2="407.6" y2="800.8" stroke="#6a6a6a" stroke-width="0.9" />
<line x1="496.5" y1="802.5" x2="488.2" y2="807.8" stroke="#6a6a6a" stroke-width="0.9" />
<line x1="496.5" y1="802.5" x2="505.5" y2="803.3" stroke="#6a6a6a" stroke-width="0.9" />
<line x1="570.4" y1="755.5" x2="579.4" y2="756.3" stroke="#6a6a6a" stroke-width="0.9" />
<line x1="644.3" y1="708.6" x2="653.3" y2="709.4" stroke="#6a6a6a" stroke-width="0.9" />
</g>
<text x="369.4" y="406.5" font-size="22.4" text-anchor="middle" font-family="Liberation Serif, Times New Roman, serif" font-weight="bold" fill="#000">HI Degradation Trends</text>
<text x="77.8" y="773.1" font-size="19.5" text-anchor="end" font-family="Liberation Serif, Times New Roman, serif" font-weight="bold" fill="#262626">0</text>
<text x="77.8" y="721.4" font-size="19.5" text-anchor="end" font-family="Liberation Serif, Times New Roman, serif" font-weight="bold" fill="#262626">200</text>
<text x="77.8" y="668.8" font-size="19.5" text-anchor="end" font-family="Liberation Serif, Times New Roman, serif" font-weight="bold" fill="#262626">400</text>
<text x="77.8" y="617.0" font-size="19.5" text-anchor="end" font-family="Liberation Serif, Times New Roman, serif" font-weight="bold" fill="#262626">600</text>
<text x="77.8" y="565.2" font-size="19.5" text-anchor="end" font-family="Liberation Serif, Times New Roman, serif" font-weight="bold" fill="#262626">800</text>
<text x="77.8" y="513.4" font-size="19.5" text-anchor="end" font-family="Liberation Serif, Times New Roman, serif" font-weight="bold" fill="#262626">1000</text>
<text x="65.6" y="795.4" font-size="19.5" text-anchor="middle" font-family="Liberation Serif, Times New Roman, serif" font-weight="bold" fill="#262626">250</text>
<text x="147" y="802.8" font-size="19.5" text-anchor="middle" font-family="Liberation Serif, Times New Roman, serif" font-weight="bold" fill="#262626">200</text>
<text x="227.2" y="808.7" font-size="19.5" text-anchor="middle" font-family="Liberation Serif, Times New Roman, serif" font-weight="bold" fill="#262626">150</text>
<text x="307" y="816.4" font-size="19.5" text-anchor="middle" font-family="Liberation Serif, Times New Roman, serif" font-weight="bold" fill="#262626">100</text>
<text x="393" y="823.7" font-size="19.5" text-anchor="middle" font-family="Liberation Serif, Times New Roman, serif" font-weight="bold" fill="#262626">50</text>
<text x="476.9" y="830.2" font-size="19.5" text-anchor="middle" font-family="Liberation Serif, Times New Roman, serif" font-weight="bold" fill="#262626">0</text>
<text x="511.8" y="822.7" font-size="19.5" text-anchor="start" font-family="Liberation Serif, Times New Roman, serif" font-weight="bold" fill="#262626">0</text>
<text x="586.3" y="776.4" font-size="19.5" text-anchor="start" font-family="Liberation Serif, Times New Roman, serif" font-weight="bold" fill="#262626">500</text>
<text x="660.8" y="728.2" font-size="19.5" text-anchor="start" font-family="Liberation Serif, Times New Roman, serif" font-weight="bold" fill="#262626">1000</text>
<text x="318" y="849.9" font-size="21.7" text-anchor="middle" font-family="Liberation Serif, Times New Roman, serif" font-weight="bold" fill="#262626">HI</text>
<text x="635.2" y="833.7" font-size="22.4" text-anchor="middle" font-family="Liberation Serif, Times New Roman, serif" font-weight="bold" fill="#262626">Cycle</text>
<text transform="translate(31.4,637.2) rotate(-90)" font-size="22.4" text-anchor="middle" font-family="Liberation Serif, Times New Roman, serif" font-weight="bold" fill="#262626">HI Value</text>
</svg>
</body></html>
